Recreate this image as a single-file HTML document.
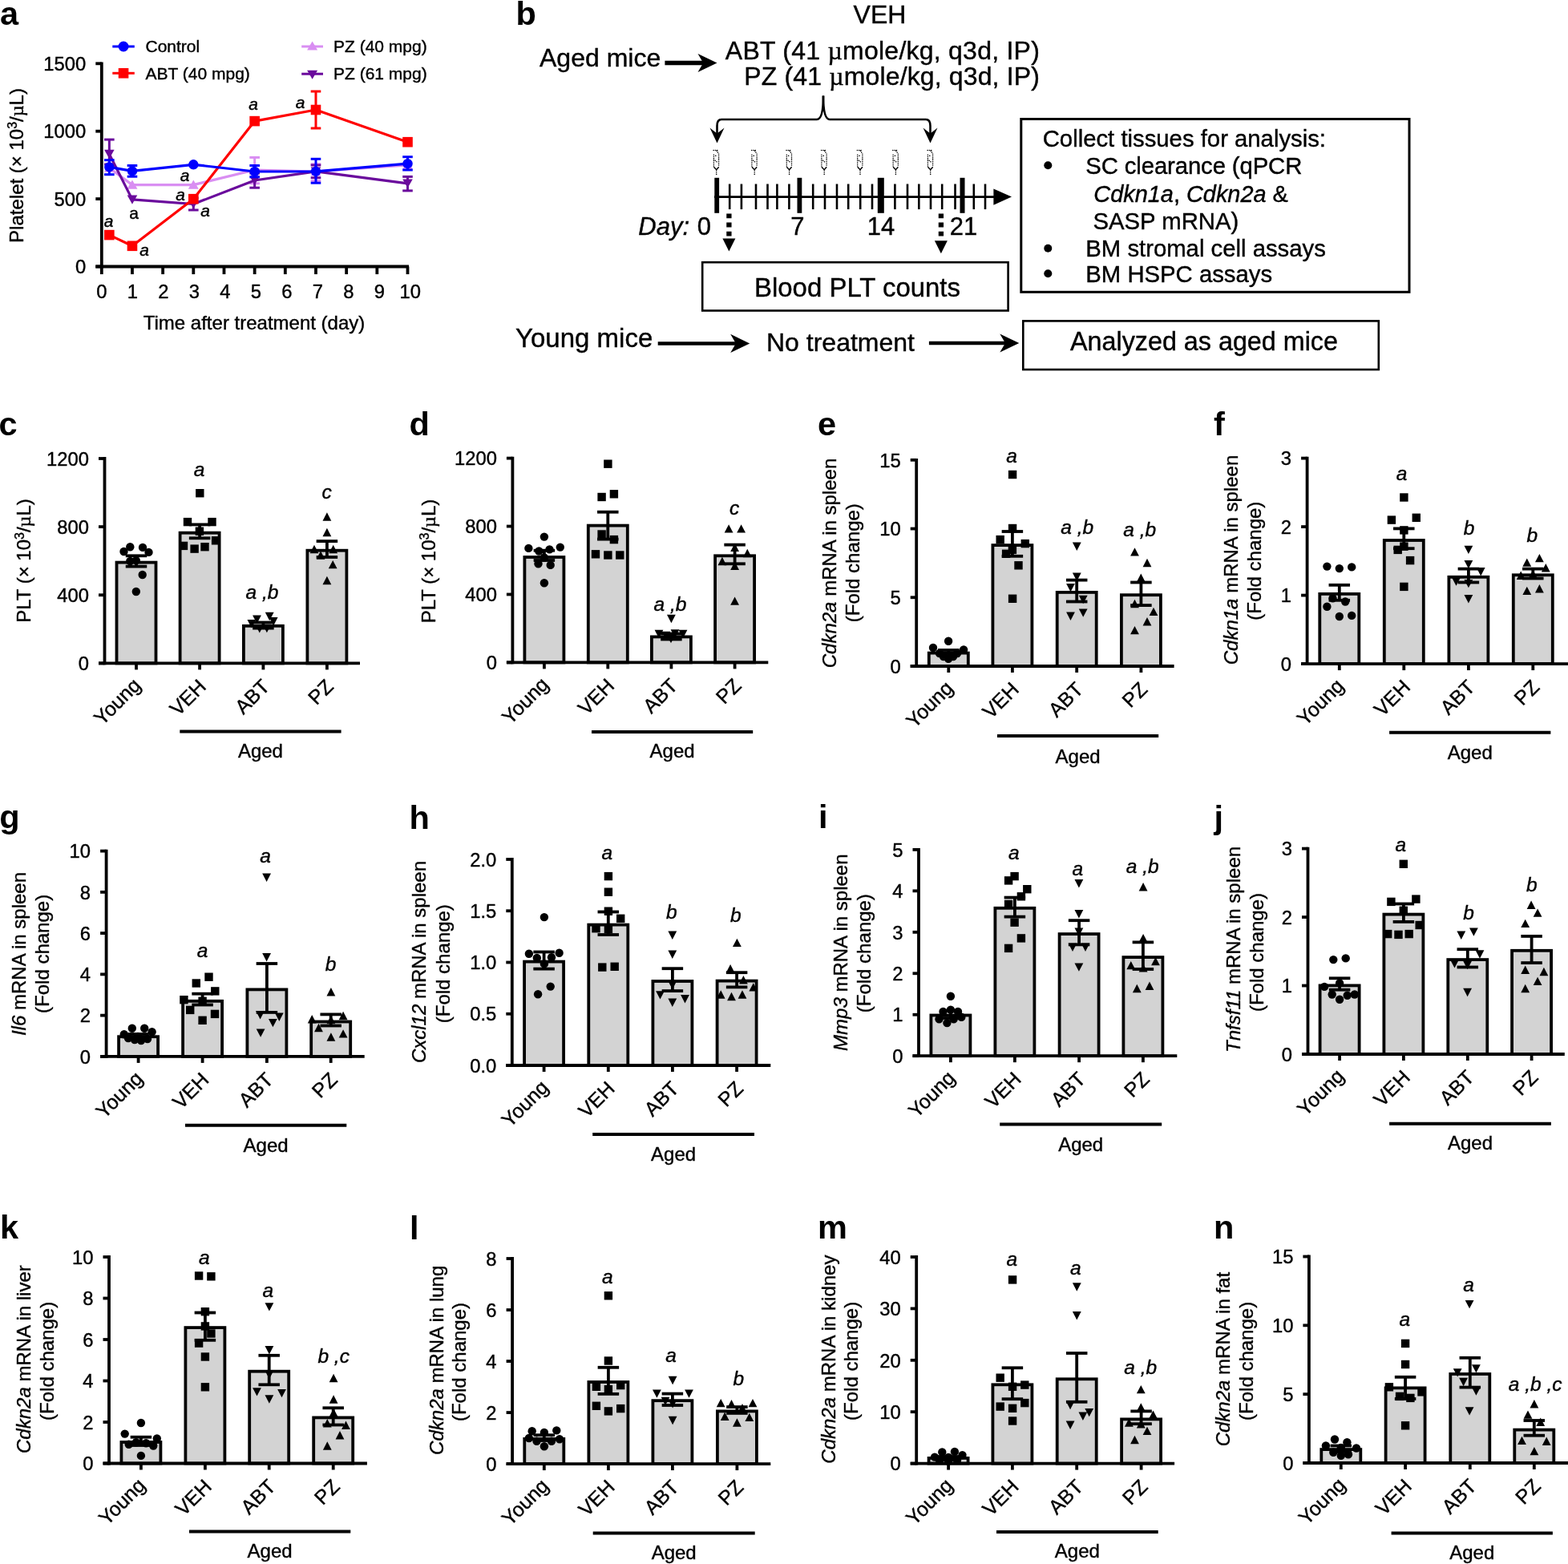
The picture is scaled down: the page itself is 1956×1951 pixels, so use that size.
<!DOCTYPE html>
<html><head><meta charset="utf-8"><title>Figure</title>
<style>
html,body{margin:0;padding:0;background:#fff;}
svg{display:block;}
text{font-family:'Liberation Sans', Arial, Helvetica, sans-serif;fill:#000;stroke:#000;stroke-width:0.4px;}
text[font-weight=bold]{stroke:none;}
</style></head>
<body>
<svg xmlns="http://www.w3.org/2000/svg" width="1956" height="1951" viewBox="0 0 1956 1951">
<rect width="1956" height="1951" fill="#fff"/>
<text x="0" y="31.2" font-size="41.5" text-anchor="start" font-weight="bold">a</text>
<line x1="126.8" y1="77.4" x2="126.8" y2="334.4" stroke="#000" stroke-width="3.8" stroke-linecap="butt"/>
<line x1="119.3" y1="332.5" x2="510" y2="332.5" stroke="#000" stroke-width="3.8" stroke-linecap="butt"/>
<line x1="119.3" y1="332.5" x2="126.8" y2="332.5" stroke="#000" stroke-width="3.8" stroke-linecap="butt"/>
<text x="107.3" y="341.2" font-size="23.8" text-anchor="end">0</text>
<line x1="119.3" y1="248.1" x2="126.8" y2="248.1" stroke="#000" stroke-width="3.8" stroke-linecap="butt"/>
<text x="107.3" y="256.8" font-size="23.8" text-anchor="end">500</text>
<line x1="119.3" y1="163.7" x2="126.8" y2="163.7" stroke="#000" stroke-width="3.8" stroke-linecap="butt"/>
<text x="107.3" y="172.4" font-size="23.8" text-anchor="end">1000</text>
<line x1="119.3" y1="79.3" x2="126.8" y2="79.3" stroke="#000" stroke-width="3.8" stroke-linecap="butt"/>
<text x="107.3" y="88" font-size="23.8" text-anchor="end">1500</text>
<line x1="126.8" y1="332.5" x2="126.8" y2="342.1" stroke="#000" stroke-width="3.8" stroke-linecap="butt"/>
<text x="126.8" y="371.8" font-size="23.8" text-anchor="middle">0</text>
<line x1="164.97" y1="332.5" x2="164.97" y2="342.1" stroke="#000" stroke-width="3.8" stroke-linecap="butt"/>
<text x="165.3" y="371.8" font-size="23.8" text-anchor="middle">1</text>
<line x1="203.14" y1="332.5" x2="203.14" y2="342.1" stroke="#000" stroke-width="3.8" stroke-linecap="butt"/>
<text x="203.8" y="371.8" font-size="23.8" text-anchor="middle">2</text>
<line x1="241.31" y1="332.5" x2="241.31" y2="342.1" stroke="#000" stroke-width="3.8" stroke-linecap="butt"/>
<text x="242.3" y="371.8" font-size="23.8" text-anchor="middle">3</text>
<line x1="279.48" y1="332.5" x2="279.48" y2="342.1" stroke="#000" stroke-width="3.8" stroke-linecap="butt"/>
<text x="280.8" y="371.8" font-size="23.8" text-anchor="middle">4</text>
<line x1="317.65" y1="332.5" x2="317.65" y2="342.1" stroke="#000" stroke-width="3.8" stroke-linecap="butt"/>
<text x="319.3" y="371.8" font-size="23.8" text-anchor="middle">5</text>
<line x1="355.82" y1="332.5" x2="355.82" y2="342.1" stroke="#000" stroke-width="3.8" stroke-linecap="butt"/>
<text x="357.8" y="371.8" font-size="23.8" text-anchor="middle">6</text>
<line x1="393.99" y1="332.5" x2="393.99" y2="342.1" stroke="#000" stroke-width="3.8" stroke-linecap="butt"/>
<text x="396.3" y="371.8" font-size="23.8" text-anchor="middle">7</text>
<line x1="432.16" y1="332.5" x2="432.16" y2="342.1" stroke="#000" stroke-width="3.8" stroke-linecap="butt"/>
<text x="434.8" y="371.8" font-size="23.8" text-anchor="middle">8</text>
<line x1="470.33" y1="332.5" x2="470.33" y2="342.1" stroke="#000" stroke-width="3.8" stroke-linecap="butt"/>
<text x="473.3" y="371.8" font-size="23.8" text-anchor="middle">9</text>
<line x1="508.5" y1="332.5" x2="508.5" y2="342.1" stroke="#000" stroke-width="3.8" stroke-linecap="butt"/>
<text x="511.8" y="371.8" font-size="23.8" text-anchor="middle">10</text>
<text x="317" y="411" font-size="24" text-anchor="middle">Time after treatment (day)</text>
<text x="28.8" y="206.5" font-size="24" text-anchor="middle" transform="rotate(-90 28.8 206.5)">Platelet (× 10<tspan dy="-8" font-size="16">3</tspan><tspan dy="8">/</tspan><tspan font-family="Liberation Serif, serif">µ</tspan>L)</text>
<line x1="317.65" y1="196.4" x2="317.65" y2="228.8" stroke="#d98ef2" stroke-width="3" stroke-linecap="butt"/>
<line x1="311.35" y1="196.4" x2="323.95" y2="196.4" stroke="#d98ef2" stroke-width="3" stroke-linecap="butt"/>
<line x1="311.35" y1="228.8" x2="323.95" y2="228.8" stroke="#d98ef2" stroke-width="3" stroke-linecap="butt"/>
<line x1="393.99" y1="204.8" x2="393.99" y2="225.6" stroke="#d98ef2" stroke-width="3" stroke-linecap="butt"/>
<line x1="387.69" y1="204.8" x2="400.29" y2="204.8" stroke="#d98ef2" stroke-width="3" stroke-linecap="butt"/>
<line x1="387.69" y1="225.6" x2="400.29" y2="225.6" stroke="#d98ef2" stroke-width="3" stroke-linecap="butt"/>
<polyline points="136.34,209.5 164.97,230.6 241.31,230.6 317.65,212 393.99,214 508.5,206" fill="none" stroke="#d98ef2" stroke-width="3.2" stroke-linejoin="round"/>
<path d="M136.34 203.5L142.84 214.7L129.84 214.7Z" fill="#d98ef2"/>
<path d="M164.97 224.6L171.47 235.8L158.47 235.8Z" fill="#d98ef2"/>
<path d="M241.31 224.6L247.81 235.8L234.81 235.8Z" fill="#d98ef2"/>
<path d="M317.65 206L324.15 217.2L311.15 217.2Z" fill="#d98ef2"/>
<path d="M393.99 208L400.49 219.2L387.49 219.2Z" fill="#d98ef2"/>
<path d="M508.5 200L515 211.2L502 211.2Z" fill="#d98ef2"/>
<line x1="136.34" y1="174.1" x2="136.34" y2="205" stroke="#6a0a9c" stroke-width="3" stroke-linecap="butt"/>
<line x1="130.04" y1="174.1" x2="142.64" y2="174.1" stroke="#6a0a9c" stroke-width="3" stroke-linecap="butt"/>
<line x1="130.04" y1="205" x2="142.64" y2="205" stroke="#6a0a9c" stroke-width="3" stroke-linecap="butt"/>
<line x1="241.31" y1="247" x2="241.31" y2="262" stroke="#6a0a9c" stroke-width="3" stroke-linecap="butt"/>
<line x1="235.01" y1="247" x2="247.61" y2="247" stroke="#6a0a9c" stroke-width="3" stroke-linecap="butt"/>
<line x1="235.01" y1="262" x2="247.61" y2="262" stroke="#6a0a9c" stroke-width="3" stroke-linecap="butt"/>
<line x1="317.65" y1="216" x2="317.65" y2="234.2" stroke="#6a0a9c" stroke-width="3" stroke-linecap="butt"/>
<line x1="311.35" y1="216" x2="323.95" y2="216" stroke="#6a0a9c" stroke-width="3" stroke-linecap="butt"/>
<line x1="311.35" y1="234.2" x2="323.95" y2="234.2" stroke="#6a0a9c" stroke-width="3" stroke-linecap="butt"/>
<line x1="393.99" y1="206" x2="393.99" y2="221.7" stroke="#6a0a9c" stroke-width="3" stroke-linecap="butt"/>
<line x1="387.69" y1="206" x2="400.29" y2="206" stroke="#6a0a9c" stroke-width="3" stroke-linecap="butt"/>
<line x1="387.69" y1="221.7" x2="400.29" y2="221.7" stroke="#6a0a9c" stroke-width="3" stroke-linecap="butt"/>
<line x1="508.5" y1="220.4" x2="508.5" y2="237.9" stroke="#6a0a9c" stroke-width="3" stroke-linecap="butt"/>
<line x1="502.2" y1="220.4" x2="514.8" y2="220.4" stroke="#6a0a9c" stroke-width="3" stroke-linecap="butt"/>
<line x1="502.2" y1="237.9" x2="514.8" y2="237.9" stroke="#6a0a9c" stroke-width="3" stroke-linecap="butt"/>
<polyline points="136.34,192.2 164.97,248.9 241.31,254.5 317.65,225 393.99,213.9 508.5,228.8" fill="none" stroke="#6a0a9c" stroke-width="3.2" stroke-linejoin="round"/>
<path d="M130.04 186.8L142.64 186.8L136.34 198Z" fill="#6a0a9c"/>
<path d="M158.67 243.5L171.27 243.5L164.97 254.7Z" fill="#6a0a9c"/>
<path d="M235.01 249.1L247.61 249.1L241.31 260.3Z" fill="#6a0a9c"/>
<path d="M311.35 219.6L323.95 219.6L317.65 230.8Z" fill="#6a0a9c"/>
<path d="M387.69 208.5L400.29 208.5L393.99 219.7Z" fill="#6a0a9c"/>
<path d="M502.2 223.4L514.8 223.4L508.5 234.6Z" fill="#6a0a9c"/>
<line x1="393.99" y1="114" x2="393.99" y2="160" stroke="#ff0000" stroke-width="3" stroke-linecap="butt"/>
<line x1="387.69" y1="114" x2="400.29" y2="114" stroke="#ff0000" stroke-width="3" stroke-linecap="butt"/>
<line x1="387.69" y1="160" x2="400.29" y2="160" stroke="#ff0000" stroke-width="3" stroke-linecap="butt"/>
<polyline points="136.34,293.1 164.97,306.8 241.31,248.2 317.65,151.1 393.99,137 508.5,177.2" fill="none" stroke="#ff0000" stroke-width="3.2" stroke-linejoin="round"/>
<rect x="130.04" y="286.8" width="12.6" height="12.6" fill="#ff0000"/>
<rect x="158.67" y="300.5" width="12.6" height="12.6" fill="#ff0000"/>
<rect x="235.01" y="241.9" width="12.6" height="12.6" fill="#ff0000"/>
<rect x="311.35" y="144.8" width="12.6" height="12.6" fill="#ff0000"/>
<rect x="387.69" y="130.7" width="12.6" height="12.6" fill="#ff0000"/>
<rect x="502.2" y="170.9" width="12.6" height="12.6" fill="#ff0000"/>
<line x1="136.34" y1="199.7" x2="136.34" y2="217.7" stroke="#0000ff" stroke-width="3" stroke-linecap="butt"/>
<line x1="130.04" y1="199.7" x2="142.64" y2="199.7" stroke="#0000ff" stroke-width="3" stroke-linecap="butt"/>
<line x1="130.04" y1="217.7" x2="142.64" y2="217.7" stroke="#0000ff" stroke-width="3" stroke-linecap="butt"/>
<line x1="164.97" y1="206.5" x2="164.97" y2="220.2" stroke="#0000ff" stroke-width="3" stroke-linecap="butt"/>
<line x1="158.67" y1="206.5" x2="171.27" y2="206.5" stroke="#0000ff" stroke-width="3" stroke-linecap="butt"/>
<line x1="158.67" y1="220.2" x2="171.27" y2="220.2" stroke="#0000ff" stroke-width="3" stroke-linecap="butt"/>
<line x1="317.65" y1="206.5" x2="317.65" y2="220.8" stroke="#0000ff" stroke-width="3" stroke-linecap="butt"/>
<line x1="311.35" y1="206.5" x2="323.95" y2="206.5" stroke="#0000ff" stroke-width="3" stroke-linecap="butt"/>
<line x1="311.35" y1="220.8" x2="323.95" y2="220.8" stroke="#0000ff" stroke-width="3" stroke-linecap="butt"/>
<line x1="393.99" y1="198.3" x2="393.99" y2="228.2" stroke="#0000ff" stroke-width="3" stroke-linecap="butt"/>
<line x1="387.69" y1="198.3" x2="400.29" y2="198.3" stroke="#0000ff" stroke-width="3" stroke-linecap="butt"/>
<line x1="387.69" y1="228.2" x2="400.29" y2="228.2" stroke="#0000ff" stroke-width="3" stroke-linecap="butt"/>
<line x1="508.5" y1="195.7" x2="508.5" y2="212" stroke="#0000ff" stroke-width="3" stroke-linecap="butt"/>
<line x1="502.2" y1="195.7" x2="514.8" y2="195.7" stroke="#0000ff" stroke-width="3" stroke-linecap="butt"/>
<line x1="502.2" y1="212" x2="514.8" y2="212" stroke="#0000ff" stroke-width="3" stroke-linecap="butt"/>
<polyline points="136.34,208.4 164.97,213.4 241.31,205.3 317.65,214 393.99,213.9 508.5,204.2" fill="none" stroke="#0000ff" stroke-width="3.2" stroke-linejoin="round"/>
<circle cx="136.34" cy="208.4" r="6.2" fill="#0000ff"/>
<circle cx="164.97" cy="213.4" r="6.2" fill="#0000ff"/>
<circle cx="241.31" cy="205.3" r="6.2" fill="#0000ff"/>
<circle cx="317.65" cy="214" r="6.2" fill="#0000ff"/>
<circle cx="393.99" cy="213.9" r="6.2" fill="#0000ff"/>
<circle cx="508.5" cy="204.2" r="6.2" fill="#0000ff"/>
<text x="135.5" y="283.1" font-size="21" font-style="italic" text-anchor="middle">a</text>
<text x="180" y="318.6" font-size="21" font-style="italic" text-anchor="middle">a</text>
<text x="230.5" y="226.4" font-size="21" font-style="italic" text-anchor="middle">a</text>
<text x="225" y="249.5" font-size="21" font-style="italic" text-anchor="middle">a</text>
<text x="256" y="270" font-size="21" font-style="italic" text-anchor="middle">a</text>
<text x="316.2" y="137.4" font-size="21" font-style="italic" text-anchor="middle">a</text>
<text x="374.6" y="135" font-size="21" font-style="italic" text-anchor="middle">a</text>
<text x="167" y="273.2" font-size="21" text-anchor="middle">a</text>
<line x1="140.3" y1="58" x2="167.8" y2="58" stroke="#0000ff" stroke-width="3" stroke-linecap="butt"/>
<circle cx="154.05" cy="58" r="6.5" fill="#0000ff"/>
<text x="181.5" y="65" font-size="21" text-anchor="start">Control</text>
<line x1="140.3" y1="91.3" x2="167.8" y2="91.3" stroke="#ff0000" stroke-width="3" stroke-linecap="butt"/>
<rect x="147.75" y="85" width="12.6" height="12.6" fill="#ff0000"/>
<text x="181.5" y="98.5" font-size="21" text-anchor="start">ABT (40 mpg)</text>
<line x1="376.2" y1="58" x2="403" y2="58" stroke="#d98ef2" stroke-width="3" stroke-linecap="butt"/>
<path d="M389.6 51.5L396.1 62.5L383.1 62.5Z" fill="#d98ef2"/>
<text x="416" y="65.2" font-size="21" text-anchor="start">PZ (40 mpg)</text>
<line x1="376.2" y1="92.2" x2="403" y2="92.2" stroke="#6a0a9c" stroke-width="3" stroke-linecap="butt"/>
<path d="M383.1 87.7L396.1 87.7L389.6 98.7Z" fill="#6a0a9c"/>
<text x="416" y="99.1" font-size="21" text-anchor="start">PZ (61 mpg)</text>
<text x="643.5" y="31.3" font-size="41.5" text-anchor="start" font-weight="bold">b</text>
<text x="1097.5" y="28.6" font-size="32" text-anchor="middle">VEH</text>
<text x="673" y="82.5" font-size="32" text-anchor="start">Aged mice</text>
<line x1="829.4" y1="78.5" x2="882" y2="78.5" stroke="#000" stroke-width="5.5" stroke-linecap="butt"/>
<path d="M894.5 78.5L870.5 67L877.22 78.5L870.5 90Z" fill="#000"/>
<text x="1296.8" y="73.9" font-size="32" text-anchor="end" textLength="392" lengthAdjust="spacing">ABT (41 <tspan font-family="Liberation Serif, serif">µ</tspan>mole/kg, q3d, IP)</text>
<text x="1296.8" y="105.8" font-size="32" text-anchor="end" textLength="368.5" lengthAdjust="spacing">PZ (41 <tspan font-family="Liberation Serif, serif">µ</tspan>mole/kg, q3d, IP)</text>
<path d="M1027 119.5 Q1027 149 1019 149 H900 Q894.5 149 894.5 157 V170" fill="none" stroke="#000" stroke-width="2.6"/>
<path d="M1027 119.5 Q1027 149 1035 149 H1155 Q1160.5 149 1160.5 157 V170" fill="none" stroke="#000" stroke-width="2.6"/>
<path d="M894.5 178.6 L885.5 159.5 L894.5 166.5 L903.5 159.5 Z" fill="#000"/>
<path d="M1160.5 178.6 L1151.5 159.5 L1160.5 166.5 L1169.5 159.5 Z" fill="#000"/>
<g fill="none" stroke="#000" stroke-width="1.5" stroke-linecap="round" stroke-dasharray="0.1 2.2"><path d="M890.1 187.5H896.1"/><path d="M894.1 188.2L896.5 191.7"/><path d="M890.4 193.2V207.2 M896.6 192.2V207.2"/><path d="M892.7 194.2L894.2 195.2 M892.2 200.2L894.5 202.2"/><path d="M893.7 212.7V219.2"/></g><path d="M890.4 208.2L893.7 211.7L896.7 208.2" fill="none" stroke="#000" stroke-width="1.4"/>
<g fill="none" stroke="#000" stroke-width="1.5" stroke-linecap="round" stroke-dasharray="0.1 2.2"><path d="M937.6 187.5H943.6"/><path d="M941.6 188.2L944 191.7"/><path d="M937.9 193.2V207.2 M944.1 192.2V207.2"/><path d="M940.2 194.2L941.7 195.2 M939.7 200.2L942 202.2"/><path d="M941.2 212.7V219.2"/></g><path d="M937.9 208.2L941.2 211.7L944.2 208.2" fill="none" stroke="#000" stroke-width="1.4"/>
<g fill="none" stroke="#000" stroke-width="1.5" stroke-linecap="round" stroke-dasharray="0.1 2.2"><path d="M981 187.5H987"/><path d="M985 188.2L987.4 191.7"/><path d="M981.3 193.2V207.2 M987.5 192.2V207.2"/><path d="M983.6 194.2L985.1 195.2 M983.1 200.2L985.4 202.2"/><path d="M984.6 212.7V219.2"/></g><path d="M981.3 208.2L984.6 211.7L987.6 208.2" fill="none" stroke="#000" stroke-width="1.4"/>
<g fill="none" stroke="#000" stroke-width="1.5" stroke-linecap="round" stroke-dasharray="0.1 2.2"><path d="M1024.6 187.5H1030.6"/><path d="M1028.6 188.2L1031 191.7"/><path d="M1024.9 193.2V207.2 M1031.1 192.2V207.2"/><path d="M1027.2 194.2L1028.7 195.2 M1026.7 200.2L1029 202.2"/><path d="M1028.2 212.7V219.2"/></g><path d="M1024.9 208.2L1028.2 211.7L1031.2 208.2" fill="none" stroke="#000" stroke-width="1.4"/>
<g fill="none" stroke="#000" stroke-width="1.5" stroke-linecap="round" stroke-dasharray="0.1 2.2"><path d="M1069.4 187.5H1075.4"/><path d="M1073.4 188.2L1075.8 191.7"/><path d="M1069.7 193.2V207.2 M1075.9 192.2V207.2"/><path d="M1072 194.2L1073.5 195.2 M1071.5 200.2L1073.8 202.2"/><path d="M1073 212.7V219.2"/></g><path d="M1069.7 208.2L1073 211.7L1076 208.2" fill="none" stroke="#000" stroke-width="1.4"/>
<g fill="none" stroke="#000" stroke-width="1.5" stroke-linecap="round" stroke-dasharray="0.1 2.2"><path d="M1113.8 187.5H1119.8"/><path d="M1117.8 188.2L1120.2 191.7"/><path d="M1114.1 193.2V207.2 M1120.3 192.2V207.2"/><path d="M1116.4 194.2L1117.9 195.2 M1115.9 200.2L1118.2 202.2"/><path d="M1117.4 212.7V219.2"/></g><path d="M1114.1 208.2L1117.4 211.7L1120.4 208.2" fill="none" stroke="#000" stroke-width="1.4"/>
<g fill="none" stroke="#000" stroke-width="1.5" stroke-linecap="round" stroke-dasharray="0.1 2.2"><path d="M1157.1 187.5H1163.1"/><path d="M1161.1 188.2L1163.5 191.7"/><path d="M1157.4 193.2V207.2 M1163.6 192.2V207.2"/><path d="M1159.7 194.2L1161.2 195.2 M1159.2 200.2L1161.5 202.2"/><path d="M1160.7 212.7V219.2"/></g><path d="M1157.4 208.2L1160.7 211.7L1163.7 208.2" fill="none" stroke="#000" stroke-width="1.4"/>
<line x1="891" y1="245.6" x2="1242" y2="245.6" stroke="#000" stroke-width="2.8" stroke-linecap="butt"/>
<path d="M1262 245.6 L1239.4 235.5 L1239.4 255.7 Z" fill="#000"/>
<rect x="891.3" y="221.8" width="5.8" height="44" fill="#000"/>
<rect x="994.5" y="221.8" width="5.8" height="44" fill="#000"/>
<rect x="1094.8" y="221.8" width="8" height="44" fill="#000"/>
<rect x="1197.5" y="221.8" width="6" height="44" fill="#000"/>
<line x1="910.2" y1="229.5" x2="910.2" y2="261.1" stroke="#000" stroke-width="2.6" stroke-linecap="butt"/>
<line x1="924.9" y1="229.5" x2="924.9" y2="261.1" stroke="#000" stroke-width="2.6" stroke-linecap="butt"/>
<line x1="943" y1="229.5" x2="943" y2="261.1" stroke="#000" stroke-width="2.6" stroke-linecap="butt"/>
<line x1="957.5" y1="229.5" x2="957.5" y2="261.1" stroke="#000" stroke-width="2.6" stroke-linecap="butt"/>
<line x1="969.4" y1="229.5" x2="969.4" y2="261.1" stroke="#000" stroke-width="2.6" stroke-linecap="butt"/>
<line x1="984.4" y1="229.5" x2="984.4" y2="261.1" stroke="#000" stroke-width="2.6" stroke-linecap="butt"/>
<line x1="1014.2" y1="229.5" x2="1014.2" y2="261.1" stroke="#000" stroke-width="2.6" stroke-linecap="butt"/>
<line x1="1029" y1="229.5" x2="1029" y2="261.1" stroke="#000" stroke-width="2.6" stroke-linecap="butt"/>
<line x1="1044" y1="229.5" x2="1044" y2="261.1" stroke="#000" stroke-width="2.6" stroke-linecap="butt"/>
<line x1="1058.2" y1="229.5" x2="1058.2" y2="261.1" stroke="#000" stroke-width="2.6" stroke-linecap="butt"/>
<line x1="1073.2" y1="229.5" x2="1073.2" y2="261.1" stroke="#000" stroke-width="2.6" stroke-linecap="butt"/>
<line x1="1088" y1="229.5" x2="1088" y2="261.1" stroke="#000" stroke-width="2.6" stroke-linecap="butt"/>
<line x1="1116.4" y1="229.5" x2="1116.4" y2="261.1" stroke="#000" stroke-width="2.6" stroke-linecap="butt"/>
<line x1="1132" y1="229.5" x2="1132" y2="261.1" stroke="#000" stroke-width="2.6" stroke-linecap="butt"/>
<line x1="1146.3" y1="229.5" x2="1146.3" y2="261.1" stroke="#000" stroke-width="2.6" stroke-linecap="butt"/>
<line x1="1161" y1="229.5" x2="1161" y2="261.1" stroke="#000" stroke-width="2.6" stroke-linecap="butt"/>
<line x1="1175.2" y1="229.5" x2="1175.2" y2="261.1" stroke="#000" stroke-width="2.6" stroke-linecap="butt"/>
<line x1="1191.5" y1="229.5" x2="1191.5" y2="261.1" stroke="#000" stroke-width="2.6" stroke-linecap="butt"/>
<line x1="1214.8" y1="229.5" x2="1214.8" y2="261.1" stroke="#000" stroke-width="2.6" stroke-linecap="butt"/>
<line x1="1229" y1="229.5" x2="1229" y2="261.1" stroke="#000" stroke-width="2.6" stroke-linecap="butt"/>
<text x="860" y="293" font-size="31" text-anchor="end" font-style="italic">Day:</text>
<text x="878.3" y="293" font-size="31" text-anchor="middle">0</text>
<text x="994.8" y="293" font-size="31" text-anchor="middle">7</text>
<text x="1099" y="293" font-size="31" text-anchor="middle">14</text>
<text x="1201.9" y="293" font-size="31" text-anchor="middle">21</text>
<line x1="909.4" y1="266.4" x2="909.4" y2="297.1" stroke="#000" stroke-width="6.3" stroke-dasharray="5.8 5.4"/>
<path d="M901.4 297.6 L917.4 297.6 L909.4 313.6 Z" fill="#000"/>
<line x1="1173.9" y1="266.4" x2="1173.9" y2="299.7" stroke="#000" stroke-width="6.3" stroke-dasharray="5.8 5.4"/>
<path d="M1165.9 300.2 L1181.9 300.2 L1173.9 316.2 Z" fill="#000"/>
<rect x="876.2" y="327.2" width="381.4" height="60.3" fill="none" stroke="#000" stroke-width="2.6"/>
<text x="1069.5" y="369.8" font-size="32.95" text-anchor="middle">Blood PLT counts</text>
<rect x="1273.8" y="148.5" width="484.2" height="215.8" fill="none" stroke="#000" stroke-width="3"/>
<text x="1300.7" y="182.7" font-size="29.3" text-anchor="start">Collect tissues for analysis:</text>
<circle cx="1307.3" cy="206.3" r="5" fill="#000"/>
<circle cx="1307.3" cy="309.7" r="5" fill="#000"/>
<circle cx="1307.3" cy="341.2" r="5" fill="#000"/>
<text x="1354.3" y="217.2" font-size="29.3" text-anchor="start" textLength="270" lengthAdjust="spacing">SC clearance (qPCR</text>
<text x="1364.3" y="251.5" font-size="28.9"><tspan font-style="italic">Cdkn1a</tspan>, <tspan font-style="italic">Cdkn2a</tspan> &amp;</text>
<text x="1363.5" y="286.4" font-size="29.3" text-anchor="start">SASP mRNA)</text>
<text x="1354.3" y="320.1" font-size="29.3" text-anchor="start">BM stromal cell assays</text>
<text x="1354.3" y="352.2" font-size="29.3" text-anchor="start">BM HSPC assays</text>
<text x="643" y="432.7" font-size="33" text-anchor="start">Young mice</text>
<line x1="820.7" y1="428.4" x2="920" y2="428.4" stroke="#000" stroke-width="4.5" stroke-linecap="butt"/>
<path d="M935.2 428.4L911.2 416.7L917.92 428.4L911.2 440.1Z" fill="#000"/>
<text x="956" y="438.4" font-size="32" text-anchor="start">No treatment</text>
<line x1="1158.9" y1="428" x2="1258" y2="428" stroke="#000" stroke-width="4.5" stroke-linecap="butt"/>
<path d="M1271.3 428L1247.3 416.5L1254.02 428L1247.3 439.5Z" fill="#000"/>
<rect x="1276.3" y="400.4" width="443.5" height="60.6" fill="none" stroke="#000" stroke-width="2.6"/>
<text x="1502" y="437.4" font-size="32.3" text-anchor="middle">Analyzed as aged mice</text>
<line x1="130.5" y1="570.1" x2="130.5" y2="829.3" stroke="#000" stroke-width="3.8" stroke-linecap="butt"/>
<line x1="123" y1="827.4" x2="130.5" y2="827.4" stroke="#000" stroke-width="3.8" stroke-linecap="butt"/>
<text x="111" y="836.1" font-size="23.8" text-anchor="end">0</text>
<line x1="123" y1="742.27" x2="130.5" y2="742.27" stroke="#000" stroke-width="3.8" stroke-linecap="butt"/>
<text x="111" y="750.97" font-size="23.8" text-anchor="end">400</text>
<line x1="123" y1="657.13" x2="130.5" y2="657.13" stroke="#000" stroke-width="3.8" stroke-linecap="butt"/>
<text x="111" y="665.83" font-size="23.8" text-anchor="end">800</text>
<line x1="123" y1="572" x2="130.5" y2="572" stroke="#000" stroke-width="3.8" stroke-linecap="butt"/>
<text x="111" y="580.7" font-size="23.8" text-anchor="end">1200</text>
<rect x="145.5" y="701.6" width="49" height="125.8" fill="#d3d3d3" stroke="#000" stroke-width="3.8"/>
<rect x="224.6" y="664.7" width="49" height="162.7" fill="#d3d3d3" stroke="#000" stroke-width="3.8"/>
<rect x="303.9" y="780.8" width="49" height="46.6" fill="#d3d3d3" stroke="#000" stroke-width="3.8"/>
<rect x="383.4" y="686.7" width="49" height="140.7" fill="#d3d3d3" stroke="#000" stroke-width="3.8"/>
<line x1="170" y1="693.3" x2="170" y2="706.6" stroke="#000" stroke-width="3.8" stroke-linecap="butt"/>
<line x1="156.75" y1="693.3" x2="183.25" y2="693.3" stroke="#000" stroke-width="3.8" stroke-linecap="butt"/>
<line x1="156.75" y1="706.6" x2="183.25" y2="706.6" stroke="#000" stroke-width="3.8" stroke-linecap="butt"/>
<line x1="249.1" y1="654.4" x2="249.1" y2="671.3" stroke="#000" stroke-width="3.8" stroke-linecap="butt"/>
<line x1="235.85" y1="654.4" x2="262.35" y2="654.4" stroke="#000" stroke-width="3.8" stroke-linecap="butt"/>
<line x1="235.85" y1="671.3" x2="262.35" y2="671.3" stroke="#000" stroke-width="3.8" stroke-linecap="butt"/>
<line x1="328.4" y1="776.5" x2="328.4" y2="783.6" stroke="#000" stroke-width="3.8" stroke-linecap="butt"/>
<line x1="315.15" y1="776.5" x2="341.65" y2="776.5" stroke="#000" stroke-width="3.8" stroke-linecap="butt"/>
<line x1="315.15" y1="783.6" x2="341.65" y2="783.6" stroke="#000" stroke-width="3.8" stroke-linecap="butt"/>
<line x1="407.9" y1="675.1" x2="407.9" y2="695" stroke="#000" stroke-width="3.8" stroke-linecap="butt"/>
<line x1="394.65" y1="675.1" x2="421.15" y2="675.1" stroke="#000" stroke-width="3.8" stroke-linecap="butt"/>
<line x1="394.65" y1="695" x2="421.15" y2="695" stroke="#000" stroke-width="3.8" stroke-linecap="butt"/>
<circle cx="162.3" cy="682.2" r="5.2" fill="#000"/>
<circle cx="178" cy="682.9" r="5.2" fill="#000"/>
<circle cx="154.5" cy="688" r="5.2" fill="#000"/>
<circle cx="185.5" cy="688.9" r="5.2" fill="#000"/>
<circle cx="162.3" cy="700" r="5.2" fill="#000"/>
<circle cx="169.8" cy="699.1" r="5.2" fill="#000"/>
<circle cx="177.7" cy="717" r="5.2" fill="#000"/>
<circle cx="169.8" cy="738" r="5.2" fill="#000"/>
<rect x="244.1" y="610" width="10.4" height="10.4" fill="#000"/>
<rect x="228.8" y="645.9" width="10.4" height="10.4" fill="#000"/>
<rect x="259.3" y="645.9" width="10.4" height="10.4" fill="#000"/>
<rect x="243.7" y="657.5" width="10.4" height="10.4" fill="#000"/>
<rect x="263.9" y="669.1" width="10.4" height="10.4" fill="#000"/>
<rect x="223.8" y="675.7" width="10.4" height="10.4" fill="#000"/>
<rect x="250.3" y="677" width="10.4" height="10.4" fill="#000"/>
<rect x="237.4" y="679.4" width="10.4" height="10.4" fill="#000"/>
<path d="M315.1 767.6L325.9 767.6L320.5 778Z" fill="#000"/>
<path d="M330.8 763.8L341.6 763.8L336.2 774.2Z" fill="#000"/>
<path d="M308.5 773.1L319.3 773.1L313.9 783.5Z" fill="#000"/>
<path d="M335.8 770.1L346.6 770.1L341.2 780.5Z" fill="#000"/>
<path d="M318.4 779.2L329.2 779.2L323.8 789.6Z" fill="#000"/>
<path d="M327.5 778.8L338.3 778.8L332.9 789.2Z" fill="#000"/>
<path d="M407.9 639.3L413.3 649.7L402.5 649.7Z" fill="#000"/>
<path d="M407.9 658.8L413.3 669.2L402.5 669.2Z" fill="#000"/>
<path d="M392 679.8L397.4 690.2L386.6 690.2Z" fill="#000"/>
<path d="M415.7 679.8L421.1 690.2L410.3 690.2Z" fill="#000"/>
<path d="M400 687.3L405.4 697.7L394.6 697.7Z" fill="#000"/>
<path d="M415.2 698.9L420.6 709.3L409.8 709.3Z" fill="#000"/>
<path d="M407.9 718.8L413.3 729.2L402.5 729.2Z" fill="#000"/>
<line x1="123" y1="827.4" x2="449" y2="827.4" stroke="#000" stroke-width="3.8" stroke-linecap="butt"/>
<line x1="170" y1="827.4" x2="170" y2="835.4" stroke="#000" stroke-width="3.8" stroke-linecap="butt"/>
<text x="177" y="856.4" font-size="25" text-anchor="end" transform="rotate(-45 177 856.4)">Young</text>
<line x1="249.1" y1="827.4" x2="249.1" y2="835.4" stroke="#000" stroke-width="3.8" stroke-linecap="butt"/>
<text x="258.6" y="857.9" font-size="25" text-anchor="end" transform="rotate(-45 258.6 857.9)">VEH</text>
<line x1="328.4" y1="827.4" x2="328.4" y2="835.4" stroke="#000" stroke-width="3.8" stroke-linecap="butt"/>
<text x="337.9" y="857.9" font-size="25" text-anchor="end" transform="rotate(-45 337.9 857.9)">ABT</text>
<line x1="407.9" y1="827.4" x2="407.9" y2="835.4" stroke="#000" stroke-width="3.8" stroke-linecap="butt"/>
<text x="417.4" y="857.9" font-size="25" text-anchor="end" transform="rotate(-45 417.4 857.9)">PZ</text>
<line x1="224.3" y1="912.4" x2="425.6" y2="912.4" stroke="#000" stroke-width="4" stroke-linecap="butt"/>
<text x="324.95" y="945.2" font-size="24" text-anchor="middle">Aged</text>
<text x="248.5" y="594.3" font-size="24.5" font-style="italic" text-anchor="middle">a</text>
<text x="407.5" y="621.6" font-size="24.5" font-style="italic" text-anchor="middle">c</text>
<text x="327" y="746.7" font-size="24.5" font-style="italic" text-anchor="middle">a ,b</text>
<text x="38" y="699.5" font-size="24" text-anchor="middle" transform="rotate(-90 38 699.5)">PLT (× 10<tspan dy="-8" font-size="16">3</tspan><tspan dy="8">/</tspan><tspan font-family="Liberation Serif, serif">µ</tspan>L)</text>
<text x="-1.5" y="542.5" font-size="41.5" text-anchor="start" font-weight="bold">c</text>
<line x1="639.4" y1="569.7" x2="639.4" y2="828.3" stroke="#000" stroke-width="3.8" stroke-linecap="butt"/>
<line x1="631.9" y1="826.4" x2="639.4" y2="826.4" stroke="#000" stroke-width="3.8" stroke-linecap="butt"/>
<text x="619.9" y="835.1" font-size="23.8" text-anchor="end">0</text>
<line x1="631.9" y1="741.47" x2="639.4" y2="741.47" stroke="#000" stroke-width="3.8" stroke-linecap="butt"/>
<text x="619.9" y="750.17" font-size="23.8" text-anchor="end">400</text>
<line x1="631.9" y1="656.53" x2="639.4" y2="656.53" stroke="#000" stroke-width="3.8" stroke-linecap="butt"/>
<text x="619.9" y="665.23" font-size="23.8" text-anchor="end">800</text>
<line x1="631.9" y1="571.6" x2="639.4" y2="571.6" stroke="#000" stroke-width="3.8" stroke-linecap="butt"/>
<text x="619.9" y="580.3" font-size="23.8" text-anchor="end">1200</text>
<rect x="654.4" y="695" width="49" height="131.4" fill="#d3d3d3" stroke="#000" stroke-width="3.8"/>
<rect x="733.8" y="655.6" width="49" height="170.8" fill="#d3d3d3" stroke="#000" stroke-width="3.8"/>
<rect x="812.9" y="794.4" width="49" height="32" fill="#d3d3d3" stroke="#000" stroke-width="3.8"/>
<rect x="892.1" y="693.3" width="49" height="133.1" fill="#d3d3d3" stroke="#000" stroke-width="3.8"/>
<line x1="678.9" y1="686.7" x2="678.9" y2="699" stroke="#000" stroke-width="3.8" stroke-linecap="butt"/>
<line x1="665.65" y1="686.7" x2="692.15" y2="686.7" stroke="#000" stroke-width="3.8" stroke-linecap="butt"/>
<line x1="665.65" y1="699" x2="692.15" y2="699" stroke="#000" stroke-width="3.8" stroke-linecap="butt"/>
<line x1="758.3" y1="638.7" x2="758.3" y2="672.6" stroke="#000" stroke-width="3.8" stroke-linecap="butt"/>
<line x1="745.05" y1="638.7" x2="771.55" y2="638.7" stroke="#000" stroke-width="3.8" stroke-linecap="butt"/>
<line x1="745.05" y1="672.6" x2="771.55" y2="672.6" stroke="#000" stroke-width="3.8" stroke-linecap="butt"/>
<line x1="837.4" y1="790.5" x2="837.4" y2="797.5" stroke="#000" stroke-width="3.8" stroke-linecap="butt"/>
<line x1="824.15" y1="790.5" x2="850.65" y2="790.5" stroke="#000" stroke-width="3.8" stroke-linecap="butt"/>
<line x1="824.15" y1="797.5" x2="850.65" y2="797.5" stroke="#000" stroke-width="3.8" stroke-linecap="butt"/>
<line x1="916.6" y1="679.6" x2="916.6" y2="703.3" stroke="#000" stroke-width="3.8" stroke-linecap="butt"/>
<line x1="903.35" y1="679.6" x2="929.85" y2="679.6" stroke="#000" stroke-width="3.8" stroke-linecap="butt"/>
<line x1="903.35" y1="703.3" x2="929.85" y2="703.3" stroke="#000" stroke-width="3.8" stroke-linecap="butt"/>
<circle cx="678.9" cy="669.6" r="5.2" fill="#000"/>
<circle cx="659.4" cy="683.9" r="5.2" fill="#000"/>
<circle cx="698.8" cy="682.6" r="5.2" fill="#000"/>
<circle cx="672.3" cy="687.5" r="5.2" fill="#000"/>
<circle cx="685.5" cy="685.4" r="5.2" fill="#000"/>
<circle cx="671.5" cy="703.3" r="5.2" fill="#000"/>
<circle cx="686.7" cy="704.9" r="5.2" fill="#000"/>
<circle cx="678.9" cy="727.3" r="5.2" fill="#000"/>
<circle cx="678.9" cy="695.5" r="5.2" fill="#000"/>
<rect x="753.2" y="573.5" width="10.4" height="10.4" fill="#000"/>
<rect x="745.4" y="614.8" width="10.4" height="10.4" fill="#000"/>
<rect x="760.7" y="611.1" width="10.4" height="10.4" fill="#000"/>
<rect x="745.4" y="661.3" width="10.4" height="10.4" fill="#000"/>
<rect x="760.7" y="667.9" width="10.4" height="10.4" fill="#000"/>
<rect x="737.8" y="686.1" width="10.4" height="10.4" fill="#000"/>
<rect x="753.2" y="687.3" width="10.4" height="10.4" fill="#000"/>
<rect x="768.1" y="687.3" width="10.4" height="10.4" fill="#000"/>
<path d="M832 766.8L842.8 766.8L837.4 777.2Z" fill="#000"/>
<path d="M816.6 785.8L827.4 785.8L822 796.2Z" fill="#000"/>
<path d="M825.6 787.8L836.4 787.8L831 798.2Z" fill="#000"/>
<path d="M836.6 785.3L847.4 785.3L842 795.7Z" fill="#000"/>
<path d="M846.6 785.8L857.4 785.8L852 796.2Z" fill="#000"/>
<path d="M831.6 791.8L842.4 791.8L837 802.2Z" fill="#000"/>
<path d="M909.1 654.2L914.5 664.6L903.7 664.6Z" fill="#000"/>
<path d="M924.6 654.2L930 664.6L919.2 664.6Z" fill="#000"/>
<path d="M916.6 677.7L922 688.1L911.2 688.1Z" fill="#000"/>
<path d="M932.3 684.8L937.7 695.2L926.9 695.2Z" fill="#000"/>
<path d="M900.9 694.8L906.3 705.2L895.5 705.2Z" fill="#000"/>
<path d="M916.6 700.6L922 711L911.2 711Z" fill="#000"/>
<path d="M916.6 744.4L922 754.8L911.2 754.8Z" fill="#000"/>
<line x1="631.9" y1="826.4" x2="958.3" y2="826.4" stroke="#000" stroke-width="3.8" stroke-linecap="butt"/>
<line x1="678.9" y1="826.4" x2="678.9" y2="834.4" stroke="#000" stroke-width="3.8" stroke-linecap="butt"/>
<text x="685.9" y="855.4" font-size="25" text-anchor="end" transform="rotate(-45 685.9 855.4)">Young</text>
<line x1="758.3" y1="826.4" x2="758.3" y2="834.4" stroke="#000" stroke-width="3.8" stroke-linecap="butt"/>
<text x="767.8" y="856.9" font-size="25" text-anchor="end" transform="rotate(-45 767.8 856.9)">VEH</text>
<line x1="837.4" y1="826.4" x2="837.4" y2="834.4" stroke="#000" stroke-width="3.8" stroke-linecap="butt"/>
<text x="846.9" y="856.9" font-size="25" text-anchor="end" transform="rotate(-45 846.9 856.9)">ABT</text>
<line x1="916.6" y1="826.4" x2="916.6" y2="834.4" stroke="#000" stroke-width="3.8" stroke-linecap="butt"/>
<text x="926.1" y="856.9" font-size="25" text-anchor="end" transform="rotate(-45 926.1 856.9)">PZ</text>
<line x1="738" y1="913" x2="939.2" y2="913" stroke="#000" stroke-width="4" stroke-linecap="butt"/>
<text x="838.6" y="945.2" font-size="24" text-anchor="middle">Aged</text>
<text x="836" y="762" font-size="24.5" font-style="italic" text-anchor="middle">a ,b</text>
<text x="916" y="642" font-size="24.5" font-style="italic" text-anchor="middle">c</text>
<text x="543.2" y="700" font-size="24" text-anchor="middle" transform="rotate(-90 543.2 700)">PLT (× 10<tspan dy="-8" font-size="16">3</tspan><tspan dy="8">/</tspan><tspan font-family="Liberation Serif, serif">µ</tspan>L)</text>
<text x="510.5" y="542.8" font-size="41.5" text-anchor="start" font-weight="bold">d</text>
<line x1="1143.2" y1="571.9" x2="1143.2" y2="832.9" stroke="#000" stroke-width="3.8" stroke-linecap="butt"/>
<line x1="1135.7" y1="831" x2="1143.2" y2="831" stroke="#000" stroke-width="3.8" stroke-linecap="butt"/>
<text x="1123.7" y="839.7" font-size="23.8" text-anchor="end">0</text>
<line x1="1135.7" y1="745.27" x2="1143.2" y2="745.27" stroke="#000" stroke-width="3.8" stroke-linecap="butt"/>
<text x="1123.7" y="753.97" font-size="23.8" text-anchor="end">5</text>
<line x1="1135.7" y1="659.53" x2="1143.2" y2="659.53" stroke="#000" stroke-width="3.8" stroke-linecap="butt"/>
<text x="1123.7" y="668.23" font-size="23.8" text-anchor="end">10</text>
<line x1="1135.7" y1="573.8" x2="1143.2" y2="573.8" stroke="#000" stroke-width="3.8" stroke-linecap="butt"/>
<text x="1123.7" y="582.5" font-size="23.8" text-anchor="end">15</text>
<rect x="1158.8" y="814.6" width="49" height="16.4" fill="#d3d3d3" stroke="#000" stroke-width="3.8"/>
<rect x="1238.4" y="680.1" width="49" height="150.9" fill="#d3d3d3" stroke="#000" stroke-width="3.8"/>
<rect x="1318.7" y="738.9" width="49" height="92.1" fill="#d3d3d3" stroke="#000" stroke-width="3.8"/>
<rect x="1398.9" y="742.2" width="49" height="88.8" fill="#d3d3d3" stroke="#000" stroke-width="3.8"/>
<line x1="1183.3" y1="811" x2="1183.3" y2="818" stroke="#000" stroke-width="3.8" stroke-linecap="butt"/>
<line x1="1170.05" y1="811" x2="1196.55" y2="811" stroke="#000" stroke-width="3.8" stroke-linecap="butt"/>
<line x1="1170.05" y1="818" x2="1196.55" y2="818" stroke="#000" stroke-width="3.8" stroke-linecap="butt"/>
<line x1="1262.9" y1="663" x2="1262.9" y2="693.8" stroke="#000" stroke-width="3.8" stroke-linecap="butt"/>
<line x1="1249.65" y1="663" x2="1276.15" y2="663" stroke="#000" stroke-width="3.8" stroke-linecap="butt"/>
<line x1="1249.65" y1="693.8" x2="1276.15" y2="693.8" stroke="#000" stroke-width="3.8" stroke-linecap="butt"/>
<line x1="1343.2" y1="723.6" x2="1343.2" y2="750.5" stroke="#000" stroke-width="3.8" stroke-linecap="butt"/>
<line x1="1329.95" y1="723.6" x2="1356.45" y2="723.6" stroke="#000" stroke-width="3.8" stroke-linecap="butt"/>
<line x1="1329.95" y1="750.5" x2="1356.45" y2="750.5" stroke="#000" stroke-width="3.8" stroke-linecap="butt"/>
<line x1="1423.4" y1="726.5" x2="1423.4" y2="755.1" stroke="#000" stroke-width="3.8" stroke-linecap="butt"/>
<line x1="1410.15" y1="726.5" x2="1436.65" y2="726.5" stroke="#000" stroke-width="3.8" stroke-linecap="butt"/>
<line x1="1410.15" y1="755.1" x2="1436.65" y2="755.1" stroke="#000" stroke-width="3.8" stroke-linecap="butt"/>
<circle cx="1183.1" cy="799.7" r="5.2" fill="#000"/>
<circle cx="1164" cy="808" r="5.2" fill="#000"/>
<circle cx="1202.1" cy="810.4" r="5.2" fill="#000"/>
<circle cx="1172" cy="815" r="5.2" fill="#000"/>
<circle cx="1194" cy="815" r="5.2" fill="#000"/>
<circle cx="1177" cy="819" r="5.2" fill="#000"/>
<circle cx="1189" cy="819" r="5.2" fill="#000"/>
<circle cx="1183.1" cy="821.7" r="5.2" fill="#000"/>
<rect x="1257.9" y="586.8" width="10.4" height="10.4" fill="#000"/>
<rect x="1257.9" y="653.8" width="10.4" height="10.4" fill="#000"/>
<rect x="1242.5" y="667.9" width="10.4" height="10.4" fill="#000"/>
<rect x="1273.6" y="672.9" width="10.4" height="10.4" fill="#000"/>
<rect x="1257.7" y="680.7" width="10.4" height="10.4" fill="#000"/>
<rect x="1249.9" y="685.6" width="10.4" height="10.4" fill="#000"/>
<rect x="1265.3" y="700.1" width="10.4" height="10.4" fill="#000"/>
<rect x="1257.9" y="741.6" width="10.4" height="10.4" fill="#000"/>
<path d="M1337.9 676.5L1348.7 676.5L1343.3 686.9Z" fill="#000"/>
<path d="M1337.9 714.6L1348.7 714.6L1343.3 725Z" fill="#000"/>
<path d="M1330.1 727.9L1340.9 727.9L1335.5 738.3Z" fill="#000"/>
<path d="M1345.8 742.8L1356.6 742.8L1351.2 753.2Z" fill="#000"/>
<path d="M1330.1 763.5L1340.9 763.5L1335.5 773.9Z" fill="#000"/>
<path d="M1345.8 759.4L1356.6 759.4L1351.2 769.8Z" fill="#000"/>
<path d="M1415.5 683.2L1420.9 693.6L1410.1 693.6Z" fill="#000"/>
<path d="M1431 696.8L1436.4 707.2L1425.6 707.2Z" fill="#000"/>
<path d="M1423.3 715.5L1428.7 725.9L1417.9 725.9Z" fill="#000"/>
<path d="M1415.5 747.8L1420.9 758.2L1410.1 758.2Z" fill="#000"/>
<path d="M1439 757.7L1444.4 768.1L1433.6 768.1Z" fill="#000"/>
<path d="M1431 770.1L1436.4 780.5L1425.6 780.5Z" fill="#000"/>
<path d="M1415.5 780.9L1420.9 791.3L1410.1 791.3Z" fill="#000"/>
<line x1="1135.7" y1="831" x2="1464.6" y2="831" stroke="#000" stroke-width="3.8" stroke-linecap="butt"/>
<line x1="1183.3" y1="831" x2="1183.3" y2="839" stroke="#000" stroke-width="3.8" stroke-linecap="butt"/>
<text x="1190.3" y="860" font-size="25" text-anchor="end" transform="rotate(-45 1190.3 860)">Young</text>
<line x1="1262.9" y1="831" x2="1262.9" y2="839" stroke="#000" stroke-width="3.8" stroke-linecap="butt"/>
<text x="1272.4" y="861.5" font-size="25" text-anchor="end" transform="rotate(-45 1272.4 861.5)">VEH</text>
<line x1="1343.2" y1="831" x2="1343.2" y2="839" stroke="#000" stroke-width="3.8" stroke-linecap="butt"/>
<text x="1352.7" y="861.5" font-size="25" text-anchor="end" transform="rotate(-45 1352.7 861.5)">ABT</text>
<line x1="1423.4" y1="831" x2="1423.4" y2="839" stroke="#000" stroke-width="3.8" stroke-linecap="butt"/>
<text x="1432.9" y="861.5" font-size="25" text-anchor="end" transform="rotate(-45 1432.9 861.5)">PZ</text>
<line x1="1244" y1="918.1" x2="1445.2" y2="918.1" stroke="#000" stroke-width="4" stroke-linecap="butt"/>
<text x="1344.6" y="951.5" font-size="24" text-anchor="middle">Aged</text>
<text x="1262" y="577.4" font-size="24.5" font-style="italic" text-anchor="middle">a</text>
<text x="1343.7" y="666" font-size="24.5" font-style="italic" text-anchor="middle">a ,b</text>
<text x="1421.8" y="668.5" font-size="24.5" font-style="italic" text-anchor="middle">a ,b</text>
<text x="1043.3" y="702.5" font-size="24" text-anchor="middle" transform="rotate(-90 1043.3 702.5)"><tspan font-style="italic">Cdkn2a</tspan> mRNA in spleen</text>
<text x="1072.5" y="702.2" font-size="24" text-anchor="middle" transform="rotate(-90 1072.5 702.2)">(Fold change)</text>
<text x="1020" y="542.8" font-size="41.5" text-anchor="start" font-weight="bold">e</text>
<line x1="1630.6" y1="569.7" x2="1630.6" y2="830" stroke="#000" stroke-width="3.8" stroke-linecap="butt"/>
<line x1="1623.1" y1="828.1" x2="1630.6" y2="828.1" stroke="#000" stroke-width="3.8" stroke-linecap="butt"/>
<text x="1611.1" y="836.8" font-size="23.8" text-anchor="end">0</text>
<line x1="1623.1" y1="742.6" x2="1630.6" y2="742.6" stroke="#000" stroke-width="3.8" stroke-linecap="butt"/>
<text x="1611.1" y="751.3" font-size="23.8" text-anchor="end">1</text>
<line x1="1623.1" y1="657.1" x2="1630.6" y2="657.1" stroke="#000" stroke-width="3.8" stroke-linecap="butt"/>
<text x="1611.1" y="665.8" font-size="23.8" text-anchor="end">2</text>
<line x1="1623.1" y1="571.6" x2="1630.6" y2="571.6" stroke="#000" stroke-width="3.8" stroke-linecap="butt"/>
<text x="1611.1" y="580.3" font-size="23.8" text-anchor="end">3</text>
<rect x="1646.3" y="740.9" width="49" height="87.2" fill="#d3d3d3" stroke="#000" stroke-width="3.8"/>
<rect x="1726.8" y="674" width="49" height="154.1" fill="#d3d3d3" stroke="#000" stroke-width="3.8"/>
<rect x="1807.4" y="719.8" width="49" height="108.3" fill="#d3d3d3" stroke="#000" stroke-width="3.8"/>
<rect x="1887.8" y="717.3" width="49" height="110.8" fill="#d3d3d3" stroke="#000" stroke-width="3.8"/>
<line x1="1670.8" y1="729.8" x2="1670.8" y2="748.8" stroke="#000" stroke-width="3.8" stroke-linecap="butt"/>
<line x1="1657.55" y1="729.8" x2="1684.05" y2="729.8" stroke="#000" stroke-width="3.8" stroke-linecap="butt"/>
<line x1="1657.55" y1="748.8" x2="1684.05" y2="748.8" stroke="#000" stroke-width="3.8" stroke-linecap="butt"/>
<line x1="1751.3" y1="659.4" x2="1751.3" y2="684.2" stroke="#000" stroke-width="3.8" stroke-linecap="butt"/>
<line x1="1738.05" y1="659.4" x2="1764.55" y2="659.4" stroke="#000" stroke-width="3.8" stroke-linecap="butt"/>
<line x1="1738.05" y1="684.2" x2="1764.55" y2="684.2" stroke="#000" stroke-width="3.8" stroke-linecap="butt"/>
<line x1="1831.9" y1="709.6" x2="1831.9" y2="726.5" stroke="#000" stroke-width="3.8" stroke-linecap="butt"/>
<line x1="1818.65" y1="709.6" x2="1845.15" y2="709.6" stroke="#000" stroke-width="3.8" stroke-linecap="butt"/>
<line x1="1818.65" y1="726.5" x2="1845.15" y2="726.5" stroke="#000" stroke-width="3.8" stroke-linecap="butt"/>
<line x1="1912.3" y1="709.6" x2="1912.3" y2="721.5" stroke="#000" stroke-width="3.8" stroke-linecap="butt"/>
<line x1="1899.05" y1="709.6" x2="1925.55" y2="709.6" stroke="#000" stroke-width="3.8" stroke-linecap="butt"/>
<line x1="1899.05" y1="721.5" x2="1925.55" y2="721.5" stroke="#000" stroke-width="3.8" stroke-linecap="butt"/>
<circle cx="1655.4" cy="706.6" r="5.2" fill="#000"/>
<circle cx="1670.8" cy="709.1" r="5.2" fill="#000"/>
<circle cx="1686.2" cy="707.4" r="5.2" fill="#000"/>
<circle cx="1662.5" cy="746.3" r="5.2" fill="#000"/>
<circle cx="1678.2" cy="750.5" r="5.2" fill="#000"/>
<circle cx="1655.4" cy="756.8" r="5.2" fill="#000"/>
<circle cx="1670.8" cy="769" r="5.2" fill="#000"/>
<circle cx="1686.2" cy="767.9" r="5.2" fill="#000"/>
<rect x="1746.2" y="615.3" width="10.4" height="10.4" fill="#000"/>
<rect x="1730.7" y="643.4" width="10.4" height="10.4" fill="#000"/>
<rect x="1761.6" y="640.6" width="10.4" height="10.4" fill="#000"/>
<rect x="1746.2" y="656.2" width="10.4" height="10.4" fill="#000"/>
<rect x="1746.2" y="676.5" width="10.4" height="10.4" fill="#000"/>
<rect x="1738.5" y="680.7" width="10.4" height="10.4" fill="#000"/>
<rect x="1753.9" y="693.9" width="10.4" height="10.4" fill="#000"/>
<rect x="1746.2" y="726.7" width="10.4" height="10.4" fill="#000"/>
<path d="M1826.5 680.7L1837.3 680.7L1831.9 691.1Z" fill="#000"/>
<path d="M1826.5 698.9L1837.3 698.9L1831.9 709.3Z" fill="#000"/>
<path d="M1841.8 708L1852.6 708L1847.2 718.4Z" fill="#000"/>
<path d="M1811.1 720.4L1821.9 720.4L1816.5 730.8Z" fill="#000"/>
<path d="M1826.5 722.9L1837.3 722.9L1831.9 733.3Z" fill="#000"/>
<path d="M1826.5 742L1837.3 742L1831.9 752.4Z" fill="#000"/>
<path d="M1904.8 696.4L1910.2 706.8L1899.4 706.8Z" fill="#000"/>
<path d="M1920.4 690.9L1925.8 701.3L1915 701.3Z" fill="#000"/>
<path d="M1928.3 703L1933.7 713.4L1922.9 713.4Z" fill="#000"/>
<path d="M1897.2 712.5L1902.6 722.9L1891.8 722.9Z" fill="#000"/>
<path d="M1904.8 731.7L1910.2 742.1L1899.4 742.1Z" fill="#000"/>
<path d="M1920.4 729L1925.8 739.4L1915 739.4Z" fill="#000"/>
<path d="M1912.3 710.8L1917.7 721.2L1906.9 721.2Z" fill="#000"/>
<line x1="1623.1" y1="828.1" x2="1956" y2="828.1" stroke="#000" stroke-width="3.8" stroke-linecap="butt"/>
<line x1="1670.8" y1="828.1" x2="1670.8" y2="836.1" stroke="#000" stroke-width="3.8" stroke-linecap="butt"/>
<text x="1677.8" y="857.1" font-size="25" text-anchor="end" transform="rotate(-45 1677.8 857.1)">Young</text>
<line x1="1751.3" y1="828.1" x2="1751.3" y2="836.1" stroke="#000" stroke-width="3.8" stroke-linecap="butt"/>
<text x="1760.8" y="858.6" font-size="25" text-anchor="end" transform="rotate(-45 1760.8 858.6)">VEH</text>
<line x1="1831.9" y1="828.1" x2="1831.9" y2="836.1" stroke="#000" stroke-width="3.8" stroke-linecap="butt"/>
<text x="1841.4" y="858.6" font-size="25" text-anchor="end" transform="rotate(-45 1841.4 858.6)">ABT</text>
<line x1="1912.3" y1="828.1" x2="1912.3" y2="836.1" stroke="#000" stroke-width="3.8" stroke-linecap="butt"/>
<text x="1921.8" y="858.6" font-size="25" text-anchor="end" transform="rotate(-45 1921.8 858.6)">PZ</text>
<line x1="1733.1" y1="913.7" x2="1934.4" y2="913.7" stroke="#000" stroke-width="4" stroke-linecap="butt"/>
<text x="1833.75" y="946.5" font-size="24" text-anchor="middle">Aged</text>
<text x="1748.5" y="598.9" font-size="24.5" font-style="italic" text-anchor="middle">a</text>
<text x="1832.5" y="667.3" font-size="24.5" font-style="italic" text-anchor="middle">b</text>
<text x="1911.3" y="675.9" font-size="24.5" font-style="italic" text-anchor="middle">b</text>
<text x="1544.1" y="698.5" font-size="24" text-anchor="middle" transform="rotate(-90 1544.1 698.5)"><tspan font-style="italic">Cdkn1a</tspan> mRNA in spleen</text>
<text x="1573.1" y="699.7" font-size="24" text-anchor="middle" transform="rotate(-90 1573.1 699.7)">(Fold change)</text>
<text x="1514" y="542.8" font-size="41.5" text-anchor="start" font-weight="bold">f</text>
<line x1="132.6" y1="1059.7" x2="132.6" y2="1319.8" stroke="#000" stroke-width="3.8" stroke-linecap="butt"/>
<line x1="125.1" y1="1317.9" x2="132.6" y2="1317.9" stroke="#000" stroke-width="3.8" stroke-linecap="butt"/>
<text x="113.1" y="1326.6" font-size="23.8" text-anchor="end">0</text>
<line x1="125.1" y1="1266.64" x2="132.6" y2="1266.64" stroke="#000" stroke-width="3.8" stroke-linecap="butt"/>
<text x="113.1" y="1275.34" font-size="23.8" text-anchor="end">2</text>
<line x1="125.1" y1="1215.38" x2="132.6" y2="1215.38" stroke="#000" stroke-width="3.8" stroke-linecap="butt"/>
<text x="113.1" y="1224.08" font-size="23.8" text-anchor="end">4</text>
<line x1="125.1" y1="1164.12" x2="132.6" y2="1164.12" stroke="#000" stroke-width="3.8" stroke-linecap="butt"/>
<text x="113.1" y="1172.82" font-size="23.8" text-anchor="end">6</text>
<line x1="125.1" y1="1112.86" x2="132.6" y2="1112.86" stroke="#000" stroke-width="3.8" stroke-linecap="butt"/>
<text x="113.1" y="1121.56" font-size="23.8" text-anchor="end">8</text>
<line x1="125.1" y1="1061.6" x2="132.6" y2="1061.6" stroke="#000" stroke-width="3.8" stroke-linecap="butt"/>
<text x="113.1" y="1070.3" font-size="23.8" text-anchor="end">10</text>
<rect x="148.1" y="1293.2" width="49" height="24.7" fill="#d3d3d3" stroke="#000" stroke-width="3.8"/>
<rect x="228.1" y="1248.8" width="49" height="69.1" fill="#d3d3d3" stroke="#000" stroke-width="3.8"/>
<rect x="308.4" y="1234.4" width="49" height="83.5" fill="#d3d3d3" stroke="#000" stroke-width="3.8"/>
<rect x="388.2" y="1274.5" width="49" height="43.4" fill="#d3d3d3" stroke="#000" stroke-width="3.8"/>
<line x1="172.6" y1="1290" x2="172.6" y2="1296" stroke="#000" stroke-width="3.8" stroke-linecap="butt"/>
<line x1="159.35" y1="1290" x2="185.85" y2="1290" stroke="#000" stroke-width="3.8" stroke-linecap="butt"/>
<line x1="159.35" y1="1296" x2="185.85" y2="1296" stroke="#000" stroke-width="3.8" stroke-linecap="butt"/>
<line x1="252.6" y1="1239.7" x2="252.6" y2="1253.5" stroke="#000" stroke-width="3.8" stroke-linecap="butt"/>
<line x1="239.35" y1="1239.7" x2="265.85" y2="1239.7" stroke="#000" stroke-width="3.8" stroke-linecap="butt"/>
<line x1="239.35" y1="1253.5" x2="265.85" y2="1253.5" stroke="#000" stroke-width="3.8" stroke-linecap="butt"/>
<line x1="332.9" y1="1202" x2="332.9" y2="1262.9" stroke="#000" stroke-width="3.8" stroke-linecap="butt"/>
<line x1="319.65" y1="1202" x2="346.15" y2="1202" stroke="#000" stroke-width="3.8" stroke-linecap="butt"/>
<line x1="319.65" y1="1262.9" x2="346.15" y2="1262.9" stroke="#000" stroke-width="3.8" stroke-linecap="butt"/>
<line x1="412.7" y1="1265.4" x2="412.7" y2="1279.5" stroke="#000" stroke-width="3.8" stroke-linecap="butt"/>
<line x1="399.45" y1="1265.4" x2="425.95" y2="1265.4" stroke="#000" stroke-width="3.8" stroke-linecap="butt"/>
<line x1="399.45" y1="1279.5" x2="425.95" y2="1279.5" stroke="#000" stroke-width="3.8" stroke-linecap="butt"/>
<circle cx="164.8" cy="1282.8" r="5.2" fill="#000"/>
<circle cx="180.2" cy="1282.8" r="5.2" fill="#000"/>
<circle cx="154.8" cy="1290.2" r="5.2" fill="#000"/>
<circle cx="189.6" cy="1287.2" r="5.2" fill="#000"/>
<circle cx="160" cy="1295" r="5.2" fill="#000"/>
<circle cx="168" cy="1297" r="5.2" fill="#000"/>
<circle cx="176" cy="1298" r="5.2" fill="#000"/>
<circle cx="184" cy="1296" r="5.2" fill="#000"/>
<circle cx="172" cy="1293" r="5.2" fill="#000"/>
<rect x="255.3" y="1213.5" width="10.4" height="10.4" fill="#000"/>
<rect x="239.6" y="1221.3" width="10.4" height="10.4" fill="#000"/>
<rect x="263.1" y="1231.2" width="10.4" height="10.4" fill="#000"/>
<rect x="224.2" y="1242" width="10.4" height="10.4" fill="#000"/>
<rect x="247.4" y="1243.6" width="10.4" height="10.4" fill="#000"/>
<rect x="232" y="1254.7" width="10.4" height="10.4" fill="#000"/>
<rect x="262.8" y="1259.7" width="10.4" height="10.4" fill="#000"/>
<rect x="247.4" y="1267.6" width="10.4" height="10.4" fill="#000"/>
<path d="M327.2 1089.6L338 1089.6L332.6 1100Z" fill="#000"/>
<path d="M327.2 1189L338 1189L332.6 1199.4Z" fill="#000"/>
<path d="M319.2 1261L330 1261L324.6 1271.4Z" fill="#000"/>
<path d="M342.9 1263.5L353.7 1263.5L348.3 1273.9Z" fill="#000"/>
<path d="M335 1270.9L345.8 1270.9L340.4 1281.3Z" fill="#000"/>
<path d="M319.7 1283.4L330.5 1283.4L325.1 1293.8Z" fill="#000"/>
<path d="M412.9 1232L418.3 1242.4L407.5 1242.4Z" fill="#000"/>
<path d="M389.2 1266L394.6 1276.4L383.8 1276.4Z" fill="#000"/>
<path d="M428.1 1261.8L433.5 1272.2L422.7 1272.2Z" fill="#000"/>
<path d="M412.9 1266.8L418.3 1277.2L407.5 1277.2Z" fill="#000"/>
<path d="M397.5 1276.8L402.9 1287.2L392.1 1287.2Z" fill="#000"/>
<path d="M428.1 1284.2L433.5 1294.6L422.7 1294.6Z" fill="#000"/>
<path d="M412.9 1288.3L418.3 1298.7L407.5 1298.7Z" fill="#000"/>
<line x1="125.1" y1="1317.9" x2="454.7" y2="1317.9" stroke="#000" stroke-width="3.8" stroke-linecap="butt"/>
<line x1="172.6" y1="1317.9" x2="172.6" y2="1325.9" stroke="#000" stroke-width="3.8" stroke-linecap="butt"/>
<text x="179.6" y="1346.9" font-size="25" text-anchor="end" transform="rotate(-45 179.6 1346.9)">Young</text>
<line x1="252.6" y1="1317.9" x2="252.6" y2="1325.9" stroke="#000" stroke-width="3.8" stroke-linecap="butt"/>
<text x="262.1" y="1348.4" font-size="25" text-anchor="end" transform="rotate(-45 262.1 1348.4)">VEH</text>
<line x1="332.9" y1="1317.9" x2="332.9" y2="1325.9" stroke="#000" stroke-width="3.8" stroke-linecap="butt"/>
<text x="342.4" y="1348.4" font-size="25" text-anchor="end" transform="rotate(-45 342.4 1348.4)">ABT</text>
<line x1="412.7" y1="1317.9" x2="412.7" y2="1325.9" stroke="#000" stroke-width="3.8" stroke-linecap="butt"/>
<text x="422.2" y="1348.4" font-size="25" text-anchor="end" transform="rotate(-45 422.2 1348.4)">PZ</text>
<line x1="231" y1="1403.7" x2="432.3" y2="1403.7" stroke="#000" stroke-width="4" stroke-linecap="butt"/>
<text x="331.65" y="1436.5" font-size="24" text-anchor="middle">Aged</text>
<text x="331" y="1075.7" font-size="24.5" font-style="italic" text-anchor="middle">a</text>
<text x="252.6" y="1194.2" font-size="24.5" font-style="italic" text-anchor="middle">a</text>
<text x="412.6" y="1210.7" font-size="24.5" font-style="italic" text-anchor="middle">b</text>
<text x="32.1" y="1190" font-size="24" text-anchor="middle" transform="rotate(-90 32.1 1190)"><tspan font-style="italic">Il6</tspan> mRNA in spleen</text>
<text x="61" y="1189.9" font-size="24" text-anchor="middle" transform="rotate(-90 61 1189.9)">(Fold change)</text>
<text x="-0.8" y="1032.8" font-size="41.5" text-anchor="start" font-weight="bold">g</text>
<line x1="638.8" y1="1070.1" x2="638.8" y2="1330.9" stroke="#000" stroke-width="3.8" stroke-linecap="butt"/>
<line x1="631.3" y1="1329" x2="638.8" y2="1329" stroke="#000" stroke-width="3.8" stroke-linecap="butt"/>
<text x="619.3" y="1337.7" font-size="23.8" text-anchor="end">0.0</text>
<line x1="631.3" y1="1264.75" x2="638.8" y2="1264.75" stroke="#000" stroke-width="3.8" stroke-linecap="butt"/>
<text x="619.3" y="1273.45" font-size="23.8" text-anchor="end">0.5</text>
<line x1="631.3" y1="1200.5" x2="638.8" y2="1200.5" stroke="#000" stroke-width="3.8" stroke-linecap="butt"/>
<text x="619.3" y="1209.2" font-size="23.8" text-anchor="end">1.0</text>
<line x1="631.3" y1="1136.25" x2="638.8" y2="1136.25" stroke="#000" stroke-width="3.8" stroke-linecap="butt"/>
<text x="619.3" y="1144.95" font-size="23.8" text-anchor="end">1.5</text>
<line x1="631.3" y1="1072" x2="638.8" y2="1072" stroke="#000" stroke-width="3.8" stroke-linecap="butt"/>
<text x="619.3" y="1080.7" font-size="23.8" text-anchor="end">2.0</text>
<rect x="654.1" y="1199.6" width="49" height="129.4" fill="#d3d3d3" stroke="#000" stroke-width="3.8"/>
<rect x="734.3" y="1153.6" width="49" height="175.4" fill="#d3d3d3" stroke="#000" stroke-width="3.8"/>
<rect x="814.4" y="1224" width="49" height="105" fill="#d3d3d3" stroke="#000" stroke-width="3.8"/>
<rect x="894.6" y="1223.6" width="49" height="105.4" fill="#d3d3d3" stroke="#000" stroke-width="3.8"/>
<line x1="678.6" y1="1187.5" x2="678.6" y2="1208.6" stroke="#000" stroke-width="3.8" stroke-linecap="butt"/>
<line x1="665.35" y1="1187.5" x2="691.85" y2="1187.5" stroke="#000" stroke-width="3.8" stroke-linecap="butt"/>
<line x1="665.35" y1="1208.6" x2="691.85" y2="1208.6" stroke="#000" stroke-width="3.8" stroke-linecap="butt"/>
<line x1="758.8" y1="1137.5" x2="758.8" y2="1166" stroke="#000" stroke-width="3.8" stroke-linecap="butt"/>
<line x1="745.55" y1="1137.5" x2="772.05" y2="1137.5" stroke="#000" stroke-width="3.8" stroke-linecap="butt"/>
<line x1="745.55" y1="1166" x2="772.05" y2="1166" stroke="#000" stroke-width="3.8" stroke-linecap="butt"/>
<line x1="838.9" y1="1208.2" x2="838.9" y2="1236.1" stroke="#000" stroke-width="3.8" stroke-linecap="butt"/>
<line x1="825.65" y1="1208.2" x2="852.15" y2="1208.2" stroke="#000" stroke-width="3.8" stroke-linecap="butt"/>
<line x1="825.65" y1="1236.1" x2="852.15" y2="1236.1" stroke="#000" stroke-width="3.8" stroke-linecap="butt"/>
<line x1="919.1" y1="1213.2" x2="919.1" y2="1231.4" stroke="#000" stroke-width="3.8" stroke-linecap="butt"/>
<line x1="905.85" y1="1213.2" x2="932.35" y2="1213.2" stroke="#000" stroke-width="3.8" stroke-linecap="butt"/>
<line x1="905.85" y1="1231.4" x2="932.35" y2="1231.4" stroke="#000" stroke-width="3.8" stroke-linecap="butt"/>
<circle cx="678.9" cy="1144.1" r="5.2" fill="#000"/>
<circle cx="659.9" cy="1189.7" r="5.2" fill="#000"/>
<circle cx="697.6" cy="1188.7" r="5.2" fill="#000"/>
<circle cx="669.8" cy="1195" r="5.2" fill="#000"/>
<circle cx="688" cy="1194.2" r="5.2" fill="#000"/>
<circle cx="678.9" cy="1202.4" r="5.2" fill="#000"/>
<circle cx="686.7" cy="1230.6" r="5.2" fill="#000"/>
<circle cx="671.1" cy="1240.2" r="5.2" fill="#000"/>
<rect x="753.7" y="1087.9" width="10.4" height="10.4" fill="#000"/>
<rect x="753.7" y="1107.5" width="10.4" height="10.4" fill="#000"/>
<rect x="753.7" y="1131.5" width="10.4" height="10.4" fill="#000"/>
<rect x="769" y="1140.6" width="10.4" height="10.4" fill="#000"/>
<rect x="738.3" y="1153" width="10.4" height="10.4" fill="#000"/>
<rect x="753.7" y="1153.7" width="10.4" height="10.4" fill="#000"/>
<rect x="746.1" y="1201.4" width="10.4" height="10.4" fill="#000"/>
<rect x="761.5" y="1200.6" width="10.4" height="10.4" fill="#000"/>
<path d="M833.4 1161.6L844.2 1161.6L838.8 1172Z" fill="#000"/>
<path d="M833.4 1185.6L844.2 1185.6L838.8 1196Z" fill="#000"/>
<path d="M833.4 1223.8L844.2 1223.8L838.8 1234.2Z" fill="#000"/>
<path d="M818.1 1236.2L828.9 1236.2L823.5 1246.6Z" fill="#000"/>
<path d="M849.1 1241.1L859.9 1241.1L854.5 1251.5Z" fill="#000"/>
<path d="M833.4 1245.6L844.2 1245.6L838.8 1256Z" fill="#000"/>
<path d="M919.4 1170.7L924.8 1181.1L914 1181.1Z" fill="#000"/>
<path d="M911.1 1203L916.5 1213.4L905.7 1213.4Z" fill="#000"/>
<path d="M927.4 1217.1L932.8 1227.5L922 1227.5Z" fill="#000"/>
<path d="M939.8 1226.2L945.2 1236.6L934.4 1236.6Z" fill="#000"/>
<path d="M899.2 1235.3L904.6 1245.7L893.8 1245.7Z" fill="#000"/>
<path d="M912.5 1237.8L917.9 1248.2L907.1 1248.2Z" fill="#000"/>
<path d="M926 1235.3L931.4 1245.7L920.6 1245.7Z" fill="#000"/>
<line x1="631.3" y1="1329" x2="961.3" y2="1329" stroke="#000" stroke-width="3.8" stroke-linecap="butt"/>
<line x1="678.6" y1="1329" x2="678.6" y2="1337" stroke="#000" stroke-width="3.8" stroke-linecap="butt"/>
<text x="685.6" y="1358" font-size="25" text-anchor="end" transform="rotate(-45 685.6 1358)">Young</text>
<line x1="758.8" y1="1329" x2="758.8" y2="1337" stroke="#000" stroke-width="3.8" stroke-linecap="butt"/>
<text x="768.3" y="1359.5" font-size="25" text-anchor="end" transform="rotate(-45 768.3 1359.5)">VEH</text>
<line x1="838.9" y1="1329" x2="838.9" y2="1337" stroke="#000" stroke-width="3.8" stroke-linecap="butt"/>
<text x="848.4" y="1359.5" font-size="25" text-anchor="end" transform="rotate(-45 848.4 1359.5)">ABT</text>
<line x1="919.1" y1="1329" x2="919.1" y2="1337" stroke="#000" stroke-width="3.8" stroke-linecap="butt"/>
<text x="928.6" y="1359.5" font-size="25" text-anchor="end" transform="rotate(-45 928.6 1359.5)">PZ</text>
<line x1="739.2" y1="1415" x2="941" y2="1415" stroke="#000" stroke-width="4" stroke-linecap="butt"/>
<text x="840.1" y="1447.5" font-size="24" text-anchor="middle">Aged</text>
<text x="757.3" y="1072.4" font-size="24.5" font-style="italic" text-anchor="middle">a</text>
<text x="837.7" y="1146.1" font-size="24.5" font-style="italic" text-anchor="middle">b</text>
<text x="917.8" y="1150.3" font-size="24.5" font-style="italic" text-anchor="middle">b</text>
<text x="530.8" y="1200" font-size="24" text-anchor="middle" transform="rotate(-90 530.8 1200)"><tspan font-style="italic">Cxcl12</tspan> mRNA in spleen</text>
<text x="560.9" y="1202.2" font-size="24" text-anchor="middle" transform="rotate(-90 560.9 1202.2)">(Fold change)</text>
<text x="510.5" y="1034.3" font-size="41.5" text-anchor="start" font-weight="bold">h</text>
<line x1="1146" y1="1058" x2="1146" y2="1319.1" stroke="#000" stroke-width="3.8" stroke-linecap="butt"/>
<line x1="1138.5" y1="1317.2" x2="1146" y2="1317.2" stroke="#000" stroke-width="3.8" stroke-linecap="butt"/>
<text x="1126.5" y="1325.9" font-size="23.8" text-anchor="end">0</text>
<line x1="1138.5" y1="1265.74" x2="1146" y2="1265.74" stroke="#000" stroke-width="3.8" stroke-linecap="butt"/>
<text x="1126.5" y="1274.44" font-size="23.8" text-anchor="end">1</text>
<line x1="1138.5" y1="1214.28" x2="1146" y2="1214.28" stroke="#000" stroke-width="3.8" stroke-linecap="butt"/>
<text x="1126.5" y="1222.98" font-size="23.8" text-anchor="end">2</text>
<line x1="1138.5" y1="1162.82" x2="1146" y2="1162.82" stroke="#000" stroke-width="3.8" stroke-linecap="butt"/>
<text x="1126.5" y="1171.52" font-size="23.8" text-anchor="end">3</text>
<line x1="1138.5" y1="1111.36" x2="1146" y2="1111.36" stroke="#000" stroke-width="3.8" stroke-linecap="butt"/>
<text x="1126.5" y="1120.06" font-size="23.8" text-anchor="end">4</text>
<line x1="1138.5" y1="1059.9" x2="1146" y2="1059.9" stroke="#000" stroke-width="3.8" stroke-linecap="butt"/>
<text x="1126.5" y="1068.6" font-size="23.8" text-anchor="end">5</text>
<rect x="1161.4" y="1266.5" width="49" height="50.7" fill="#d3d3d3" stroke="#000" stroke-width="3.8"/>
<rect x="1241.4" y="1132.8" width="49" height="184.4" fill="#d3d3d3" stroke="#000" stroke-width="3.8"/>
<rect x="1321.6" y="1165.1" width="49" height="152.1" fill="#d3d3d3" stroke="#000" stroke-width="3.8"/>
<rect x="1401.4" y="1194.1" width="49" height="123.1" fill="#d3d3d3" stroke="#000" stroke-width="3.8"/>
<line x1="1185.9" y1="1260.9" x2="1185.9" y2="1270" stroke="#000" stroke-width="3.8" stroke-linecap="butt"/>
<line x1="1172.65" y1="1260.9" x2="1199.15" y2="1260.9" stroke="#000" stroke-width="3.8" stroke-linecap="butt"/>
<line x1="1172.65" y1="1270" x2="1199.15" y2="1270" stroke="#000" stroke-width="3.8" stroke-linecap="butt"/>
<line x1="1265.9" y1="1119.6" x2="1265.9" y2="1143.6" stroke="#000" stroke-width="3.8" stroke-linecap="butt"/>
<line x1="1252.65" y1="1119.6" x2="1279.15" y2="1119.6" stroke="#000" stroke-width="3.8" stroke-linecap="butt"/>
<line x1="1252.65" y1="1143.6" x2="1279.15" y2="1143.6" stroke="#000" stroke-width="3.8" stroke-linecap="butt"/>
<line x1="1346.1" y1="1148.2" x2="1346.1" y2="1178.4" stroke="#000" stroke-width="3.8" stroke-linecap="butt"/>
<line x1="1332.85" y1="1148.2" x2="1359.35" y2="1148.2" stroke="#000" stroke-width="3.8" stroke-linecap="butt"/>
<line x1="1332.85" y1="1178.4" x2="1359.35" y2="1178.4" stroke="#000" stroke-width="3.8" stroke-linecap="butt"/>
<line x1="1425.9" y1="1175.4" x2="1425.9" y2="1209" stroke="#000" stroke-width="3.8" stroke-linecap="butt"/>
<line x1="1412.65" y1="1175.4" x2="1439.15" y2="1175.4" stroke="#000" stroke-width="3.8" stroke-linecap="butt"/>
<line x1="1412.65" y1="1209" x2="1439.15" y2="1209" stroke="#000" stroke-width="3.8" stroke-linecap="butt"/>
<circle cx="1185.9" cy="1242.7" r="5.2" fill="#000"/>
<circle cx="1185.9" cy="1259.6" r="5.2" fill="#000"/>
<circle cx="1176.5" cy="1262" r="5.2" fill="#000"/>
<circle cx="1195" cy="1262" r="5.2" fill="#000"/>
<circle cx="1171.5" cy="1271.2" r="5.2" fill="#000"/>
<circle cx="1189.7" cy="1271.2" r="5.2" fill="#000"/>
<circle cx="1199.3" cy="1268.7" r="5.2" fill="#000"/>
<circle cx="1181.4" cy="1276.1" r="5.2" fill="#000"/>
<rect x="1260.4" y="1087.9" width="10.4" height="10.4" fill="#000"/>
<rect x="1252.9" y="1093.2" width="10.4" height="10.4" fill="#000"/>
<rect x="1276.1" y="1104" width="10.4" height="10.4" fill="#000"/>
<rect x="1268.7" y="1113.1" width="10.4" height="10.4" fill="#000"/>
<rect x="1252.9" y="1122.7" width="10.4" height="10.4" fill="#000"/>
<rect x="1260.4" y="1145.5" width="10.4" height="10.4" fill="#000"/>
<rect x="1268.7" y="1165.2" width="10.4" height="10.4" fill="#000"/>
<rect x="1252.9" y="1177.7" width="10.4" height="10.4" fill="#000"/>
<path d="M1340.5 1097L1351.3 1097L1345.9 1107.4Z" fill="#000"/>
<path d="M1340.5 1135.1L1351.3 1135.1L1345.9 1145.5Z" fill="#000"/>
<path d="M1340.5 1157.5L1351.3 1157.5L1345.9 1167.9Z" fill="#000"/>
<path d="M1332.6 1176.5L1343.4 1176.5L1338 1186.9Z" fill="#000"/>
<path d="M1348.6 1176.5L1359.4 1176.5L1354 1186.9Z" fill="#000"/>
<path d="M1340.5 1201.4L1351.3 1201.4L1345.9 1211.8Z" fill="#000"/>
<path d="M1426.1 1101.1L1431.5 1111.5L1420.7 1111.5Z" fill="#000"/>
<path d="M1426.1 1164.9L1431.5 1175.3L1420.7 1175.3Z" fill="#000"/>
<path d="M1410.8 1198.9L1416.2 1209.3L1405.4 1209.3Z" fill="#000"/>
<path d="M1441.5 1193.9L1446.9 1204.3L1436.1 1204.3Z" fill="#000"/>
<path d="M1426.1 1202.2L1431.5 1212.6L1420.7 1212.6Z" fill="#000"/>
<path d="M1418.3 1227.8L1423.7 1238.2L1412.9 1238.2Z" fill="#000"/>
<path d="M1434 1224.5L1439.4 1234.9L1428.6 1234.9Z" fill="#000"/>
<line x1="1138.5" y1="1317.2" x2="1468.3" y2="1317.2" stroke="#000" stroke-width="3.8" stroke-linecap="butt"/>
<line x1="1185.9" y1="1317.2" x2="1185.9" y2="1325.2" stroke="#000" stroke-width="3.8" stroke-linecap="butt"/>
<text x="1192.9" y="1346.2" font-size="25" text-anchor="end" transform="rotate(-45 1192.9 1346.2)">Young</text>
<line x1="1265.9" y1="1317.2" x2="1265.9" y2="1325.2" stroke="#000" stroke-width="3.8" stroke-linecap="butt"/>
<text x="1275.4" y="1347.7" font-size="25" text-anchor="end" transform="rotate(-45 1275.4 1347.7)">VEH</text>
<line x1="1346.1" y1="1317.2" x2="1346.1" y2="1325.2" stroke="#000" stroke-width="3.8" stroke-linecap="butt"/>
<text x="1355.6" y="1347.7" font-size="25" text-anchor="end" transform="rotate(-45 1355.6 1347.7)">ABT</text>
<line x1="1425.9" y1="1317.2" x2="1425.9" y2="1325.2" stroke="#000" stroke-width="3.8" stroke-linecap="butt"/>
<text x="1435.4" y="1347.7" font-size="25" text-anchor="end" transform="rotate(-45 1435.4 1347.7)">PZ</text>
<line x1="1247.2" y1="1402.5" x2="1449.2" y2="1402.5" stroke="#000" stroke-width="4" stroke-linecap="butt"/>
<text x="1348.2" y="1435.5" font-size="24" text-anchor="middle">Aged</text>
<text x="1264.7" y="1071.6" font-size="24.5" font-style="italic" text-anchor="middle">a</text>
<text x="1344.2" y="1092.3" font-size="24.5" font-style="italic" text-anchor="middle">a</text>
<text x="1425.3" y="1089" font-size="24.5" font-style="italic" text-anchor="middle">a ,b</text>
<text x="1056.9" y="1188.2" font-size="24" text-anchor="middle" transform="rotate(-90 1056.9 1188.2)"><tspan font-style="italic">Mmp3</tspan> mRNA in spleen</text>
<text x="1085.8" y="1189.2" font-size="24" text-anchor="middle" transform="rotate(-90 1085.8 1189.2)">(Fold change)</text>
<text x="1021" y="1033.1" font-size="41.5" text-anchor="start" font-weight="bold">i</text>
<line x1="1631.5" y1="1056.7" x2="1631.5" y2="1316.9" stroke="#000" stroke-width="3.8" stroke-linecap="butt"/>
<line x1="1624" y1="1315" x2="1631.5" y2="1315" stroke="#000" stroke-width="3.8" stroke-linecap="butt"/>
<text x="1612" y="1323.7" font-size="23.8" text-anchor="end">0</text>
<line x1="1624" y1="1229.53" x2="1631.5" y2="1229.53" stroke="#000" stroke-width="3.8" stroke-linecap="butt"/>
<text x="1612" y="1238.23" font-size="23.8" text-anchor="end">1</text>
<line x1="1624" y1="1144.07" x2="1631.5" y2="1144.07" stroke="#000" stroke-width="3.8" stroke-linecap="butt"/>
<text x="1612" y="1152.77" font-size="23.8" text-anchor="end">2</text>
<line x1="1624" y1="1058.6" x2="1631.5" y2="1058.6" stroke="#000" stroke-width="3.8" stroke-linecap="butt"/>
<text x="1612" y="1067.3" font-size="23.8" text-anchor="end">3</text>
<rect x="1646.6" y="1229.4" width="49" height="85.6" fill="#d3d3d3" stroke="#000" stroke-width="3.8"/>
<rect x="1726.4" y="1140.6" width="49" height="174.4" fill="#d3d3d3" stroke="#000" stroke-width="3.8"/>
<rect x="1806.3" y="1197.1" width="49" height="117.9" fill="#d3d3d3" stroke="#000" stroke-width="3.8"/>
<rect x="1886.1" y="1185.8" width="49" height="129.2" fill="#d3d3d3" stroke="#000" stroke-width="3.8"/>
<line x1="1671.1" y1="1220.3" x2="1671.1" y2="1234.7" stroke="#000" stroke-width="3.8" stroke-linecap="butt"/>
<line x1="1657.85" y1="1220.3" x2="1684.35" y2="1220.3" stroke="#000" stroke-width="3.8" stroke-linecap="butt"/>
<line x1="1657.85" y1="1234.7" x2="1684.35" y2="1234.7" stroke="#000" stroke-width="3.8" stroke-linecap="butt"/>
<line x1="1750.9" y1="1127.5" x2="1750.9" y2="1149.9" stroke="#000" stroke-width="3.8" stroke-linecap="butt"/>
<line x1="1737.65" y1="1127.5" x2="1764.15" y2="1127.5" stroke="#000" stroke-width="3.8" stroke-linecap="butt"/>
<line x1="1737.65" y1="1149.9" x2="1764.15" y2="1149.9" stroke="#000" stroke-width="3.8" stroke-linecap="butt"/>
<line x1="1830.8" y1="1184.2" x2="1830.8" y2="1206.5" stroke="#000" stroke-width="3.8" stroke-linecap="butt"/>
<line x1="1817.55" y1="1184.2" x2="1844.05" y2="1184.2" stroke="#000" stroke-width="3.8" stroke-linecap="butt"/>
<line x1="1817.55" y1="1206.5" x2="1844.05" y2="1206.5" stroke="#000" stroke-width="3.8" stroke-linecap="butt"/>
<line x1="1910.6" y1="1167.9" x2="1910.6" y2="1201.1" stroke="#000" stroke-width="3.8" stroke-linecap="butt"/>
<line x1="1897.35" y1="1167.9" x2="1923.85" y2="1167.9" stroke="#000" stroke-width="3.8" stroke-linecap="butt"/>
<line x1="1897.35" y1="1201.1" x2="1923.85" y2="1201.1" stroke="#000" stroke-width="3.8" stroke-linecap="butt"/>
<circle cx="1663.3" cy="1197.1" r="5.2" fill="#000"/>
<circle cx="1678.7" cy="1195.4" r="5.2" fill="#000"/>
<circle cx="1671.1" cy="1226.4" r="5.2" fill="#000"/>
<circle cx="1652.1" cy="1230.9" r="5.2" fill="#000"/>
<circle cx="1661.7" cy="1240.5" r="5.2" fill="#000"/>
<circle cx="1680.7" cy="1241.8" r="5.2" fill="#000"/>
<circle cx="1689.8" cy="1240.5" r="5.2" fill="#000"/>
<circle cx="1671.1" cy="1246.8" r="5.2" fill="#000"/>
<rect x="1745.6" y="1072.6" width="10.4" height="10.4" fill="#000"/>
<rect x="1730.2" y="1119.7" width="10.4" height="10.4" fill="#000"/>
<rect x="1761.2" y="1116.4" width="10.4" height="10.4" fill="#000"/>
<rect x="1745.6" y="1130.6" width="10.4" height="10.4" fill="#000"/>
<rect x="1765.5" y="1148.8" width="10.4" height="10.4" fill="#000"/>
<rect x="1726" y="1159.9" width="10.4" height="10.4" fill="#000"/>
<rect x="1739.3" y="1160.7" width="10.4" height="10.4" fill="#000"/>
<rect x="1752.5" y="1159.9" width="10.4" height="10.4" fill="#000"/>
<path d="M1817.4 1161.6L1828.2 1161.6L1822.8 1172Z" fill="#000"/>
<path d="M1833 1157.4L1843.8 1157.4L1838.4 1167.8Z" fill="#000"/>
<path d="M1840.6 1185.3L1851.4 1185.3L1846 1195.7Z" fill="#000"/>
<path d="M1809.1 1197.2L1819.9 1197.2L1814.5 1207.6Z" fill="#000"/>
<path d="M1825.2 1198.8L1836 1198.8L1830.6 1209.2Z" fill="#000"/>
<path d="M1825.2 1232.8L1836 1232.8L1830.6 1243.2Z" fill="#000"/>
<path d="M1910.1 1123.5L1915.5 1133.9L1904.7 1133.9Z" fill="#000"/>
<path d="M1918.1 1133.4L1923.5 1143.8L1912.7 1143.8Z" fill="#000"/>
<path d="M1902.7 1146.7L1908.1 1157.1L1897.3 1157.1Z" fill="#000"/>
<path d="M1902.7 1204.6L1908.1 1215L1897.3 1215Z" fill="#000"/>
<path d="M1925.9 1206.8L1931.3 1217.2L1920.5 1217.2Z" fill="#000"/>
<path d="M1918.1 1218.7L1923.5 1229.1L1912.7 1229.1Z" fill="#000"/>
<path d="M1902.7 1227.8L1908.1 1238.2L1897.3 1238.2Z" fill="#000"/>
<line x1="1624" y1="1315" x2="1951.8" y2="1315" stroke="#000" stroke-width="3.8" stroke-linecap="butt"/>
<line x1="1671.1" y1="1315" x2="1671.1" y2="1323" stroke="#000" stroke-width="3.8" stroke-linecap="butt"/>
<text x="1678.1" y="1344" font-size="25" text-anchor="end" transform="rotate(-45 1678.1 1344)">Young</text>
<line x1="1750.9" y1="1315" x2="1750.9" y2="1323" stroke="#000" stroke-width="3.8" stroke-linecap="butt"/>
<text x="1760.4" y="1345.5" font-size="25" text-anchor="end" transform="rotate(-45 1760.4 1345.5)">VEH</text>
<line x1="1830.8" y1="1315" x2="1830.8" y2="1323" stroke="#000" stroke-width="3.8" stroke-linecap="butt"/>
<text x="1840.3" y="1345.5" font-size="25" text-anchor="end" transform="rotate(-45 1840.3 1345.5)">ABT</text>
<line x1="1910.6" y1="1315" x2="1910.6" y2="1323" stroke="#000" stroke-width="3.8" stroke-linecap="butt"/>
<text x="1920.1" y="1345.5" font-size="25" text-anchor="end" transform="rotate(-45 1920.1 1345.5)">PZ</text>
<line x1="1733.1" y1="1401.7" x2="1934.9" y2="1401.7" stroke="#000" stroke-width="4" stroke-linecap="butt"/>
<text x="1834" y="1434" font-size="24" text-anchor="middle">Aged</text>
<text x="1747.4" y="1062.4" font-size="24.5" font-style="italic" text-anchor="middle">a</text>
<text x="1832" y="1147.4" font-size="24.5" font-style="italic" text-anchor="middle">b</text>
<text x="1910.9" y="1111.6" font-size="24.5" font-style="italic" text-anchor="middle">b</text>
<text x="1546.6" y="1184.4" font-size="24" text-anchor="middle" transform="rotate(-90 1546.6 1184.4)"><tspan font-style="italic">Tnfsf11</tspan> mRNA in spleen</text>
<text x="1575.5" y="1188" font-size="24" text-anchor="middle" transform="rotate(-90 1575.5 1188)">(Fold change)</text>
<text x="1514.5" y="1034.3" font-size="41.5" text-anchor="start" font-weight="bold">j</text>
<line x1="136" y1="1566.1" x2="136" y2="1827.4" stroke="#000" stroke-width="3.8" stroke-linecap="butt"/>
<line x1="128.5" y1="1825.5" x2="136" y2="1825.5" stroke="#000" stroke-width="3.8" stroke-linecap="butt"/>
<text x="116.5" y="1834.2" font-size="23.8" text-anchor="end">0</text>
<line x1="128.5" y1="1774" x2="136" y2="1774" stroke="#000" stroke-width="3.8" stroke-linecap="butt"/>
<text x="116.5" y="1782.7" font-size="23.8" text-anchor="end">2</text>
<line x1="128.5" y1="1722.5" x2="136" y2="1722.5" stroke="#000" stroke-width="3.8" stroke-linecap="butt"/>
<text x="116.5" y="1731.2" font-size="23.8" text-anchor="end">4</text>
<line x1="128.5" y1="1671" x2="136" y2="1671" stroke="#000" stroke-width="3.8" stroke-linecap="butt"/>
<text x="116.5" y="1679.7" font-size="23.8" text-anchor="end">6</text>
<line x1="128.5" y1="1619.5" x2="136" y2="1619.5" stroke="#000" stroke-width="3.8" stroke-linecap="butt"/>
<text x="116.5" y="1628.2" font-size="23.8" text-anchor="end">8</text>
<line x1="128.5" y1="1568" x2="136" y2="1568" stroke="#000" stroke-width="3.8" stroke-linecap="butt"/>
<text x="116.5" y="1576.7" font-size="23.8" text-anchor="end">10</text>
<rect x="151.4" y="1799" width="49" height="26.5" fill="#d3d3d3" stroke="#000" stroke-width="3.8"/>
<rect x="231.4" y="1656.1" width="49" height="169.4" fill="#d3d3d3" stroke="#000" stroke-width="3.8"/>
<rect x="311.2" y="1710.7" width="49" height="114.8" fill="#d3d3d3" stroke="#000" stroke-width="3.8"/>
<rect x="391.2" y="1768.4" width="49" height="57.1" fill="#d3d3d3" stroke="#000" stroke-width="3.8"/>
<line x1="175.9" y1="1792.7" x2="175.9" y2="1803" stroke="#000" stroke-width="3.8" stroke-linecap="butt"/>
<line x1="162.65" y1="1792.7" x2="189.15" y2="1792.7" stroke="#000" stroke-width="3.8" stroke-linecap="butt"/>
<line x1="162.65" y1="1803" x2="189.15" y2="1803" stroke="#000" stroke-width="3.8" stroke-linecap="butt"/>
<line x1="255.9" y1="1637.5" x2="255.9" y2="1671.8" stroke="#000" stroke-width="3.8" stroke-linecap="butt"/>
<line x1="242.65" y1="1637.5" x2="269.15" y2="1637.5" stroke="#000" stroke-width="3.8" stroke-linecap="butt"/>
<line x1="242.65" y1="1671.8" x2="269.15" y2="1671.8" stroke="#000" stroke-width="3.8" stroke-linecap="butt"/>
<line x1="335.7" y1="1690.8" x2="335.7" y2="1727.3" stroke="#000" stroke-width="3.8" stroke-linecap="butt"/>
<line x1="322.45" y1="1690.8" x2="348.95" y2="1690.8" stroke="#000" stroke-width="3.8" stroke-linecap="butt"/>
<line x1="322.45" y1="1727.3" x2="348.95" y2="1727.3" stroke="#000" stroke-width="3.8" stroke-linecap="butt"/>
<line x1="415.7" y1="1756.3" x2="415.7" y2="1777.5" stroke="#000" stroke-width="3.8" stroke-linecap="butt"/>
<line x1="402.45" y1="1756.3" x2="428.95" y2="1756.3" stroke="#000" stroke-width="3.8" stroke-linecap="butt"/>
<line x1="402.45" y1="1777.5" x2="428.95" y2="1777.5" stroke="#000" stroke-width="3.8" stroke-linecap="butt"/>
<circle cx="175.9" cy="1775" r="5.2" fill="#000"/>
<circle cx="155.7" cy="1788.6" r="5.2" fill="#000"/>
<circle cx="195.8" cy="1794.4" r="5.2" fill="#000"/>
<circle cx="160.7" cy="1801.8" r="5.2" fill="#000"/>
<circle cx="182.2" cy="1800.2" r="5.2" fill="#000"/>
<circle cx="191.3" cy="1803.5" r="5.2" fill="#000"/>
<circle cx="169.8" cy="1799.3" r="5.2" fill="#000"/>
<circle cx="175.9" cy="1815.9" r="5.2" fill="#000"/>
<rect x="242.9" y="1586.3" width="10.4" height="10.4" fill="#000"/>
<rect x="258.2" y="1587.1" width="10.4" height="10.4" fill="#000"/>
<rect x="250.7" y="1631" width="10.4" height="10.4" fill="#000"/>
<rect x="250.7" y="1649.2" width="10.4" height="10.4" fill="#000"/>
<rect x="258.2" y="1658.3" width="10.4" height="10.4" fill="#000"/>
<rect x="242.9" y="1670.4" width="10.4" height="10.4" fill="#000"/>
<rect x="250.7" y="1687.3" width="10.4" height="10.4" fill="#000"/>
<rect x="250.7" y="1725.1" width="10.4" height="10.4" fill="#000"/>
<path d="M330.5 1625.2L341.3 1625.2L335.9 1635.6Z" fill="#000"/>
<path d="M330.5 1679L341.3 1679L335.9 1689.4Z" fill="#000"/>
<path d="M315.1 1731.2L325.9 1731.2L320.5 1741.6Z" fill="#000"/>
<path d="M346.1 1732.9L356.9 1732.9L351.5 1743.3Z" fill="#000"/>
<path d="M330.5 1740.3L341.3 1740.3L335.9 1750.7Z" fill="#000"/>
<path d="M330.5 1709.8L341.3 1709.8L335.9 1720.2Z" fill="#000"/>
<path d="M416.1 1713.8L421.5 1724.2L410.7 1724.2Z" fill="#000"/>
<path d="M416.1 1740.3L421.5 1750.7L410.7 1750.7Z" fill="#000"/>
<path d="M416.1 1756.9L421.5 1767.3L410.7 1767.3Z" fill="#000"/>
<path d="M408.3 1770.1L413.7 1780.5L402.9 1780.5Z" fill="#000"/>
<path d="M431.5 1772.6L436.9 1783L426.1 1783Z" fill="#000"/>
<path d="M424 1785L429.4 1795.4L418.6 1795.4Z" fill="#000"/>
<path d="M408.3 1798.3L413.7 1808.7L402.9 1808.7Z" fill="#000"/>
<line x1="128.5" y1="1825.5" x2="457.9" y2="1825.5" stroke="#000" stroke-width="3.8" stroke-linecap="butt"/>
<line x1="175.9" y1="1825.5" x2="175.9" y2="1833.5" stroke="#000" stroke-width="3.8" stroke-linecap="butt"/>
<text x="182.9" y="1854.5" font-size="25" text-anchor="end" transform="rotate(-45 182.9 1854.5)">Young</text>
<line x1="255.9" y1="1825.5" x2="255.9" y2="1833.5" stroke="#000" stroke-width="3.8" stroke-linecap="butt"/>
<text x="265.4" y="1856" font-size="25" text-anchor="end" transform="rotate(-45 265.4 1856)">VEH</text>
<line x1="335.7" y1="1825.5" x2="335.7" y2="1833.5" stroke="#000" stroke-width="3.8" stroke-linecap="butt"/>
<text x="345.2" y="1856" font-size="25" text-anchor="end" transform="rotate(-45 345.2 1856)">ABT</text>
<line x1="415.7" y1="1825.5" x2="415.7" y2="1833.5" stroke="#000" stroke-width="3.8" stroke-linecap="butt"/>
<text x="425.2" y="1856" font-size="25" text-anchor="end" transform="rotate(-45 425.2 1856)">PZ</text>
<line x1="236" y1="1910.4" x2="437.3" y2="1910.4" stroke="#000" stroke-width="4" stroke-linecap="butt"/>
<text x="336.65" y="1942.7" font-size="24" text-anchor="middle">Aged</text>
<text x="254.9" y="1577.4" font-size="24.5" font-style="italic" text-anchor="middle">a</text>
<text x="334.4" y="1618" font-size="24.5" font-style="italic" text-anchor="middle">a</text>
<text x="416.2" y="1699.5" font-size="24.5" font-style="italic" text-anchor="middle">b ,c</text>
<text x="38.3" y="1695.6" font-size="24" text-anchor="middle" transform="rotate(-90 38.3 1695.6)"><tspan font-style="italic">Cdkn2a</tspan> mRNA in liver</text>
<text x="67.2" y="1697.9" font-size="24" text-anchor="middle" transform="rotate(-90 67.2 1697.9)">(Fold change)</text>
<text x="0" y="1545" font-size="41.5" text-anchor="start" font-weight="bold">k</text>
<line x1="639.1" y1="1568.1" x2="639.1" y2="1828" stroke="#000" stroke-width="3.8" stroke-linecap="butt"/>
<line x1="631.6" y1="1826.1" x2="639.1" y2="1826.1" stroke="#000" stroke-width="3.8" stroke-linecap="butt"/>
<text x="619.6" y="1834.8" font-size="23.8" text-anchor="end">0</text>
<line x1="631.6" y1="1762.07" x2="639.1" y2="1762.07" stroke="#000" stroke-width="3.8" stroke-linecap="butt"/>
<text x="619.6" y="1770.77" font-size="23.8" text-anchor="end">2</text>
<line x1="631.6" y1="1698.05" x2="639.1" y2="1698.05" stroke="#000" stroke-width="3.8" stroke-linecap="butt"/>
<text x="619.6" y="1706.75" font-size="23.8" text-anchor="end">4</text>
<line x1="631.6" y1="1634.03" x2="639.1" y2="1634.03" stroke="#000" stroke-width="3.8" stroke-linecap="butt"/>
<text x="619.6" y="1642.73" font-size="23.8" text-anchor="end">6</text>
<line x1="631.6" y1="1570" x2="639.1" y2="1570" stroke="#000" stroke-width="3.8" stroke-linecap="butt"/>
<text x="619.6" y="1578.7" font-size="23.8" text-anchor="end">8</text>
<rect x="654.3" y="1794.9" width="49" height="31.2" fill="#d3d3d3" stroke="#000" stroke-width="3.8"/>
<rect x="734.4" y="1724" width="49" height="102.1" fill="#d3d3d3" stroke="#000" stroke-width="3.8"/>
<rect x="814.4" y="1747.2" width="49" height="78.9" fill="#d3d3d3" stroke="#000" stroke-width="3.8"/>
<rect x="894.9" y="1760.4" width="49" height="65.7" fill="#d3d3d3" stroke="#000" stroke-width="3.8"/>
<line x1="678.8" y1="1790.2" x2="678.8" y2="1797" stroke="#000" stroke-width="3.8" stroke-linecap="butt"/>
<line x1="665.55" y1="1790.2" x2="692.05" y2="1790.2" stroke="#000" stroke-width="3.8" stroke-linecap="butt"/>
<line x1="665.55" y1="1797" x2="692.05" y2="1797" stroke="#000" stroke-width="3.8" stroke-linecap="butt"/>
<line x1="758.9" y1="1705.8" x2="758.9" y2="1738.9" stroke="#000" stroke-width="3.8" stroke-linecap="butt"/>
<line x1="745.65" y1="1705.8" x2="772.15" y2="1705.8" stroke="#000" stroke-width="3.8" stroke-linecap="butt"/>
<line x1="745.65" y1="1738.9" x2="772.15" y2="1738.9" stroke="#000" stroke-width="3.8" stroke-linecap="butt"/>
<line x1="838.9" y1="1738.6" x2="838.9" y2="1753" stroke="#000" stroke-width="3.8" stroke-linecap="butt"/>
<line x1="825.65" y1="1738.6" x2="852.15" y2="1738.6" stroke="#000" stroke-width="3.8" stroke-linecap="butt"/>
<line x1="825.65" y1="1753" x2="852.15" y2="1753" stroke="#000" stroke-width="3.8" stroke-linecap="butt"/>
<line x1="919.4" y1="1755.1" x2="919.4" y2="1762.9" stroke="#000" stroke-width="3.8" stroke-linecap="butt"/>
<line x1="906.15" y1="1755.1" x2="932.65" y2="1755.1" stroke="#000" stroke-width="3.8" stroke-linecap="butt"/>
<line x1="906.15" y1="1762.9" x2="932.65" y2="1762.9" stroke="#000" stroke-width="3.8" stroke-linecap="butt"/>
<circle cx="663.7" cy="1785.3" r="5.2" fill="#000"/>
<circle cx="678.9" cy="1786.9" r="5.2" fill="#000"/>
<circle cx="694.3" cy="1784.4" r="5.2" fill="#000"/>
<circle cx="659.9" cy="1794" r="5.2" fill="#000"/>
<circle cx="669.5" cy="1797.7" r="5.2" fill="#000"/>
<circle cx="688" cy="1797.7" r="5.2" fill="#000"/>
<circle cx="698" cy="1795.2" r="5.2" fill="#000"/>
<circle cx="678.9" cy="1804.3" r="5.2" fill="#000"/>
<rect x="753.7" y="1611.1" width="10.4" height="10.4" fill="#000"/>
<rect x="753.7" y="1692.3" width="10.4" height="10.4" fill="#000"/>
<rect x="738.7" y="1724.6" width="10.4" height="10.4" fill="#000"/>
<rect x="769" y="1722.9" width="10.4" height="10.4" fill="#000"/>
<rect x="753.7" y="1727.9" width="10.4" height="10.4" fill="#000"/>
<rect x="738.7" y="1748.6" width="10.4" height="10.4" fill="#000"/>
<rect x="753.7" y="1755.2" width="10.4" height="10.4" fill="#000"/>
<rect x="769" y="1751.9" width="10.4" height="10.4" fill="#000"/>
<path d="M833.7 1716.8L844.5 1716.8L839.1 1727.2Z" fill="#000"/>
<path d="M814 1733.4L824.8 1733.4L819.4 1743.8Z" fill="#000"/>
<path d="M854.1 1733.4L864.9 1733.4L859.5 1743.8Z" fill="#000"/>
<path d="M833.7 1746.1L844.5 1746.1L839.1 1756.5Z" fill="#000"/>
<path d="M833.7 1766.8L844.5 1766.8L839.1 1777.2Z" fill="#000"/>
<path d="M824.6 1742.8L835.4 1742.8L830 1753.2Z" fill="#000"/>
<path d="M899.2 1744.9L904.6 1755.3L893.8 1755.3Z" fill="#000"/>
<path d="M912.5 1746.1L917.9 1756.5L907.1 1756.5Z" fill="#000"/>
<path d="M939 1744.9L944.4 1755.3L933.6 1755.3Z" fill="#000"/>
<path d="M926 1751.1L931.4 1761.5L920.6 1761.5Z" fill="#000"/>
<path d="M904.2 1761.5L909.6 1771.9L898.8 1771.9Z" fill="#000"/>
<path d="M934.8 1762.7L940.2 1773.1L929.4 1773.1Z" fill="#000"/>
<path d="M919.4 1769.3L924.8 1779.7L914 1779.7Z" fill="#000"/>
<line x1="631.6" y1="1826.1" x2="961.3" y2="1826.1" stroke="#000" stroke-width="3.8" stroke-linecap="butt"/>
<line x1="678.8" y1="1826.1" x2="678.8" y2="1834.1" stroke="#000" stroke-width="3.8" stroke-linecap="butt"/>
<text x="685.8" y="1855.1" font-size="25" text-anchor="end" transform="rotate(-45 685.8 1855.1)">Young</text>
<line x1="758.9" y1="1826.1" x2="758.9" y2="1834.1" stroke="#000" stroke-width="3.8" stroke-linecap="butt"/>
<text x="768.4" y="1856.6" font-size="25" text-anchor="end" transform="rotate(-45 768.4 1856.6)">VEH</text>
<line x1="838.9" y1="1826.1" x2="838.9" y2="1834.1" stroke="#000" stroke-width="3.8" stroke-linecap="butt"/>
<text x="848.4" y="1856.6" font-size="25" text-anchor="end" transform="rotate(-45 848.4 1856.6)">ABT</text>
<line x1="919.4" y1="1826.1" x2="919.4" y2="1834.1" stroke="#000" stroke-width="3.8" stroke-linecap="butt"/>
<text x="928.9" y="1856.6" font-size="25" text-anchor="end" transform="rotate(-45 928.9 1856.6)">PZ</text>
<line x1="739.7" y1="1912.4" x2="941.7" y2="1912.4" stroke="#000" stroke-width="4" stroke-linecap="butt"/>
<text x="840.7" y="1945.2" font-size="24" text-anchor="middle">Aged</text>
<text x="757.8" y="1600.6" font-size="24.5" font-style="italic" text-anchor="middle">a</text>
<text x="837.1" y="1699.1" font-size="24.5" font-style="italic" text-anchor="middle">a</text>
<text x="921.2" y="1727.6" font-size="24.5" font-style="italic" text-anchor="middle">b</text>
<text x="553.2" y="1696.8" font-size="24" text-anchor="middle" transform="rotate(-90 553.2 1696.8)"><tspan font-style="italic">Cdkn2a</tspan> mRNA in lung</text>
<text x="580.8" y="1699" font-size="24" text-anchor="middle" transform="rotate(-90 580.8 1699)">(Fold change)</text>
<text x="511" y="1545.5" font-size="41.5" text-anchor="start" font-weight="bold">l</text>
<line x1="1143.2" y1="1566.1" x2="1143.2" y2="1827.5" stroke="#000" stroke-width="3.8" stroke-linecap="butt"/>
<line x1="1135.7" y1="1825.6" x2="1143.2" y2="1825.6" stroke="#000" stroke-width="3.8" stroke-linecap="butt"/>
<text x="1123.7" y="1834.3" font-size="23.8" text-anchor="end">0</text>
<line x1="1135.7" y1="1761.2" x2="1143.2" y2="1761.2" stroke="#000" stroke-width="3.8" stroke-linecap="butt"/>
<text x="1123.7" y="1769.9" font-size="23.8" text-anchor="end">10</text>
<line x1="1135.7" y1="1696.8" x2="1143.2" y2="1696.8" stroke="#000" stroke-width="3.8" stroke-linecap="butt"/>
<text x="1123.7" y="1705.5" font-size="23.8" text-anchor="end">20</text>
<line x1="1135.7" y1="1632.4" x2="1143.2" y2="1632.4" stroke="#000" stroke-width="3.8" stroke-linecap="butt"/>
<text x="1123.7" y="1641.1" font-size="23.8" text-anchor="end">30</text>
<line x1="1135.7" y1="1568" x2="1143.2" y2="1568" stroke="#000" stroke-width="3.8" stroke-linecap="butt"/>
<text x="1123.7" y="1576.7" font-size="23.8" text-anchor="end">40</text>
<rect x="1158.6" y="1818.9" width="49" height="6.7" fill="#d3d3d3" stroke="#000" stroke-width="3.8"/>
<rect x="1238.4" y="1727.3" width="49" height="98.3" fill="#d3d3d3" stroke="#000" stroke-width="3.8"/>
<rect x="1318.7" y="1720.3" width="49" height="105.3" fill="#d3d3d3" stroke="#000" stroke-width="3.8"/>
<rect x="1399.1" y="1770.4" width="49" height="55.2" fill="#d3d3d3" stroke="#000" stroke-width="3.8"/>
<line x1="1183.1" y1="1817" x2="1183.1" y2="1821" stroke="#000" stroke-width="3.8" stroke-linecap="butt"/>
<line x1="1169.85" y1="1817" x2="1196.35" y2="1817" stroke="#000" stroke-width="3.8" stroke-linecap="butt"/>
<line x1="1169.85" y1="1821" x2="1196.35" y2="1821" stroke="#000" stroke-width="3.8" stroke-linecap="butt"/>
<line x1="1262.9" y1="1706.3" x2="1262.9" y2="1745.2" stroke="#000" stroke-width="3.8" stroke-linecap="butt"/>
<line x1="1249.65" y1="1706.3" x2="1276.15" y2="1706.3" stroke="#000" stroke-width="3.8" stroke-linecap="butt"/>
<line x1="1249.65" y1="1745.2" x2="1276.15" y2="1745.2" stroke="#000" stroke-width="3.8" stroke-linecap="butt"/>
<line x1="1343.2" y1="1688" x2="1343.2" y2="1748.8" stroke="#000" stroke-width="3.8" stroke-linecap="butt"/>
<line x1="1329.95" y1="1688" x2="1356.45" y2="1688" stroke="#000" stroke-width="3.8" stroke-linecap="butt"/>
<line x1="1329.95" y1="1748.8" x2="1356.45" y2="1748.8" stroke="#000" stroke-width="3.8" stroke-linecap="butt"/>
<line x1="1423.6" y1="1760.4" x2="1423.6" y2="1776.2" stroke="#000" stroke-width="3.8" stroke-linecap="butt"/>
<line x1="1410.35" y1="1760.4" x2="1436.85" y2="1760.4" stroke="#000" stroke-width="3.8" stroke-linecap="butt"/>
<line x1="1410.35" y1="1776.2" x2="1436.85" y2="1776.2" stroke="#000" stroke-width="3.8" stroke-linecap="butt"/>
<circle cx="1175.3" cy="1811.4" r="5.2" fill="#000"/>
<circle cx="1190.9" cy="1810.9" r="5.2" fill="#000"/>
<circle cx="1166" cy="1817.6" r="5.2" fill="#000"/>
<circle cx="1200.5" cy="1815.1" r="5.2" fill="#000"/>
<circle cx="1172" cy="1821.7" r="5.2" fill="#000"/>
<circle cx="1183" cy="1822.5" r="5.2" fill="#000"/>
<circle cx="1194" cy="1821.7" r="5.2" fill="#000"/>
<circle cx="1183.1" cy="1818" r="5.2" fill="#000"/>
<rect x="1257.9" y="1591.2" width="10.4" height="10.4" fill="#000"/>
<rect x="1242.5" y="1713.5" width="10.4" height="10.4" fill="#000"/>
<rect x="1273.1" y="1722.4" width="10.4" height="10.4" fill="#000"/>
<rect x="1257.9" y="1724.6" width="10.4" height="10.4" fill="#000"/>
<rect x="1273.1" y="1744.9" width="10.4" height="10.4" fill="#000"/>
<rect x="1242.5" y="1749.4" width="10.4" height="10.4" fill="#000"/>
<rect x="1257.9" y="1751.6" width="10.4" height="10.4" fill="#000"/>
<rect x="1257.9" y="1767.3" width="10.4" height="10.4" fill="#000"/>
<path d="M1337.9 1600.3L1348.7 1600.3L1343.3 1610.7Z" fill="#000"/>
<path d="M1337.9 1636L1348.7 1636L1343.3 1646.4Z" fill="#000"/>
<path d="M1329.7 1747.8L1340.5 1747.8L1335.1 1758.2Z" fill="#000"/>
<path d="M1353.3 1756.9L1364.1 1756.9L1358.7 1767.3Z" fill="#000"/>
<path d="M1345.5 1761.5L1356.3 1761.5L1350.9 1771.9Z" fill="#000"/>
<path d="M1329.7 1772.6L1340.5 1772.6L1335.1 1783Z" fill="#000"/>
<path d="M1423.3 1727.9L1428.7 1738.3L1417.9 1738.3Z" fill="#000"/>
<path d="M1423.3 1750.2L1428.7 1760.6L1417.9 1760.6Z" fill="#000"/>
<path d="M1438.5 1759.4L1443.9 1769.8L1433.1 1769.8Z" fill="#000"/>
<path d="M1408.4 1769.3L1413.8 1779.7L1403 1779.7Z" fill="#000"/>
<path d="M1423.3 1771L1428.7 1781.4L1417.9 1781.4Z" fill="#000"/>
<path d="M1431 1779.7L1436.4 1790.1L1425.6 1790.1Z" fill="#000"/>
<path d="M1415.5 1790.8L1420.9 1801.2L1410.1 1801.2Z" fill="#000"/>
<line x1="1135.7" y1="1825.6" x2="1465.1" y2="1825.6" stroke="#000" stroke-width="3.8" stroke-linecap="butt"/>
<line x1="1183.1" y1="1825.6" x2="1183.1" y2="1833.6" stroke="#000" stroke-width="3.8" stroke-linecap="butt"/>
<text x="1190.1" y="1854.6" font-size="25" text-anchor="end" transform="rotate(-45 1190.1 1854.6)">Young</text>
<line x1="1262.9" y1="1825.6" x2="1262.9" y2="1833.6" stroke="#000" stroke-width="3.8" stroke-linecap="butt"/>
<text x="1272.4" y="1856.1" font-size="25" text-anchor="end" transform="rotate(-45 1272.4 1856.1)">VEH</text>
<line x1="1343.2" y1="1825.6" x2="1343.2" y2="1833.6" stroke="#000" stroke-width="3.8" stroke-linecap="butt"/>
<text x="1352.7" y="1856.1" font-size="25" text-anchor="end" transform="rotate(-45 1352.7 1856.1)">ABT</text>
<line x1="1423.6" y1="1825.6" x2="1423.6" y2="1833.6" stroke="#000" stroke-width="3.8" stroke-linecap="butt"/>
<text x="1433.1" y="1856.1" font-size="25" text-anchor="end" transform="rotate(-45 1433.1 1856.1)">PZ</text>
<line x1="1243" y1="1911.1" x2="1444.7" y2="1911.1" stroke="#000" stroke-width="4" stroke-linecap="butt"/>
<text x="1343.85" y="1943.2" font-size="24" text-anchor="middle">Aged</text>
<text x="1262.2" y="1579" font-size="24.5" font-style="italic" text-anchor="middle">a</text>
<text x="1341.7" y="1589.5" font-size="24.5" font-style="italic" text-anchor="middle">a</text>
<text x="1422.7" y="1714" font-size="24.5" font-style="italic" text-anchor="middle">a ,b</text>
<text x="1042" y="1695.6" font-size="24" text-anchor="middle" transform="rotate(-90 1042 1695.6)"><tspan font-style="italic">Cdkn2a</tspan> mRNA in kidney</text>
<text x="1069.7" y="1697.9" font-size="24" text-anchor="middle" transform="rotate(-90 1069.7 1697.9)">(Fold change)</text>
<text x="1020" y="1545" font-size="41.5" text-anchor="start" font-weight="bold">m</text>
<line x1="1632.9" y1="1565.6" x2="1632.9" y2="1826.9" stroke="#000" stroke-width="3.8" stroke-linecap="butt"/>
<line x1="1625.4" y1="1825" x2="1632.9" y2="1825" stroke="#000" stroke-width="3.8" stroke-linecap="butt"/>
<text x="1613.4" y="1833.7" font-size="23.8" text-anchor="end">0</text>
<line x1="1625.4" y1="1739.17" x2="1632.9" y2="1739.17" stroke="#000" stroke-width="3.8" stroke-linecap="butt"/>
<text x="1613.4" y="1747.87" font-size="23.8" text-anchor="end">5</text>
<line x1="1625.4" y1="1653.33" x2="1632.9" y2="1653.33" stroke="#000" stroke-width="3.8" stroke-linecap="butt"/>
<text x="1613.4" y="1662.03" font-size="23.8" text-anchor="end">10</text>
<line x1="1625.4" y1="1567.5" x2="1632.9" y2="1567.5" stroke="#000" stroke-width="3.8" stroke-linecap="butt"/>
<text x="1613.4" y="1576.2" font-size="23.8" text-anchor="end">15</text>
<rect x="1648.3" y="1808.1" width="49" height="16.9" fill="#d3d3d3" stroke="#000" stroke-width="3.8"/>
<rect x="1728.6" y="1731.4" width="49" height="93.6" fill="#d3d3d3" stroke="#000" stroke-width="3.8"/>
<rect x="1809.3" y="1714" width="49" height="111" fill="#d3d3d3" stroke="#000" stroke-width="3.8"/>
<rect x="1889.3" y="1783.6" width="49" height="41.4" fill="#d3d3d3" stroke="#000" stroke-width="3.8"/>
<line x1="1672.8" y1="1803.5" x2="1672.8" y2="1811" stroke="#000" stroke-width="3.8" stroke-linecap="butt"/>
<line x1="1659.55" y1="1803.5" x2="1686.05" y2="1803.5" stroke="#000" stroke-width="3.8" stroke-linecap="butt"/>
<line x1="1659.55" y1="1811" x2="1686.05" y2="1811" stroke="#000" stroke-width="3.8" stroke-linecap="butt"/>
<line x1="1753.1" y1="1717.8" x2="1753.1" y2="1745" stroke="#000" stroke-width="3.8" stroke-linecap="butt"/>
<line x1="1739.85" y1="1717.8" x2="1766.35" y2="1717.8" stroke="#000" stroke-width="3.8" stroke-linecap="butt"/>
<line x1="1739.85" y1="1745" x2="1766.35" y2="1745" stroke="#000" stroke-width="3.8" stroke-linecap="butt"/>
<line x1="1833.8" y1="1693.8" x2="1833.8" y2="1730.6" stroke="#000" stroke-width="3.8" stroke-linecap="butt"/>
<line x1="1820.55" y1="1693.8" x2="1847.05" y2="1693.8" stroke="#000" stroke-width="3.8" stroke-linecap="butt"/>
<line x1="1820.55" y1="1730.6" x2="1847.05" y2="1730.6" stroke="#000" stroke-width="3.8" stroke-linecap="butt"/>
<line x1="1913.8" y1="1772" x2="1913.8" y2="1790.7" stroke="#000" stroke-width="3.8" stroke-linecap="butt"/>
<line x1="1900.55" y1="1772" x2="1927.05" y2="1772" stroke="#000" stroke-width="3.8" stroke-linecap="butt"/>
<line x1="1900.55" y1="1790.7" x2="1927.05" y2="1790.7" stroke="#000" stroke-width="3.8" stroke-linecap="butt"/>
<circle cx="1665" cy="1795.5" r="5.2" fill="#000"/>
<circle cx="1680.4" cy="1799.3" r="5.2" fill="#000"/>
<circle cx="1653.9" cy="1803.5" r="5.2" fill="#000"/>
<circle cx="1692" cy="1806.5" r="5.2" fill="#000"/>
<circle cx="1663.3" cy="1811.8" r="5.2" fill="#000"/>
<circle cx="1672.8" cy="1815.9" r="5.2" fill="#000"/>
<circle cx="1682" cy="1814.2" r="5.2" fill="#000"/>
<circle cx="1672.8" cy="1806" r="5.2" fill="#000"/>
<rect x="1747.9" y="1670.7" width="10.4" height="10.4" fill="#000"/>
<rect x="1747.9" y="1696.8" width="10.4" height="10.4" fill="#000"/>
<rect x="1727.7" y="1725.1" width="10.4" height="10.4" fill="#000"/>
<rect x="1768.3" y="1731.2" width="10.4" height="10.4" fill="#000"/>
<rect x="1740.9" y="1736.7" width="10.4" height="10.4" fill="#000"/>
<rect x="1754.2" y="1738.7" width="10.4" height="10.4" fill="#000"/>
<rect x="1747.9" y="1773.1" width="10.4" height="10.4" fill="#000"/>
<path d="M1827.7 1621.9L1838.5 1621.9L1833.1 1632.3Z" fill="#000"/>
<path d="M1812.8 1707.2L1823.6 1707.2L1818.2 1717.6Z" fill="#000"/>
<path d="M1836 1702.2L1846.8 1702.2L1841.4 1712.6Z" fill="#000"/>
<path d="M1820.2 1718.8L1831 1718.8L1825.6 1729.2Z" fill="#000"/>
<path d="M1836 1730.4L1846.8 1730.4L1841.4 1740.8Z" fill="#000"/>
<path d="M1827.7 1755.2L1838.5 1755.2L1833.1 1765.6Z" fill="#000"/>
<path d="M1913.9 1746.1L1919.3 1756.5L1908.5 1756.5Z" fill="#000"/>
<path d="M1906 1759.4L1911.4 1769.8L1900.6 1769.8Z" fill="#000"/>
<path d="M1921.7 1768.5L1927.1 1778.9L1916.3 1778.9Z" fill="#000"/>
<path d="M1898.5 1791.7L1903.9 1802.1L1893.1 1802.1Z" fill="#000"/>
<path d="M1929.2 1792.5L1934.6 1802.9L1923.8 1802.9Z" fill="#000"/>
<path d="M1913.9 1804.9L1919.3 1815.3L1908.5 1815.3Z" fill="#000"/>
<line x1="1625.4" y1="1825" x2="1956" y2="1825" stroke="#000" stroke-width="3.8" stroke-linecap="butt"/>
<line x1="1672.8" y1="1825" x2="1672.8" y2="1833" stroke="#000" stroke-width="3.8" stroke-linecap="butt"/>
<text x="1679.8" y="1854" font-size="25" text-anchor="end" transform="rotate(-45 1679.8 1854)">Young</text>
<line x1="1753.1" y1="1825" x2="1753.1" y2="1833" stroke="#000" stroke-width="3.8" stroke-linecap="butt"/>
<text x="1762.6" y="1855.5" font-size="25" text-anchor="end" transform="rotate(-45 1762.6 1855.5)">VEH</text>
<line x1="1833.8" y1="1825" x2="1833.8" y2="1833" stroke="#000" stroke-width="3.8" stroke-linecap="butt"/>
<text x="1843.3" y="1855.5" font-size="25" text-anchor="end" transform="rotate(-45 1843.3 1855.5)">ABT</text>
<line x1="1913.8" y1="1825" x2="1913.8" y2="1833" stroke="#000" stroke-width="3.8" stroke-linecap="butt"/>
<text x="1923.3" y="1855.5" font-size="25" text-anchor="end" transform="rotate(-45 1923.3 1855.5)">PZ</text>
<line x1="1735.6" y1="1912.4" x2="1936.9" y2="1912.4" stroke="#000" stroke-width="4" stroke-linecap="butt"/>
<text x="1836.25" y="1945.2" font-size="24" text-anchor="middle">Aged</text>
<text x="1752.3" y="1654.4" font-size="24.5" font-style="italic" text-anchor="middle">a</text>
<text x="1832.1" y="1611.3" font-size="24.5" font-style="italic" text-anchor="middle">a</text>
<text x="1915.1" y="1734.7" font-size="24.5" font-style="italic" text-anchor="middle">a ,b ,c</text>
<text x="1534.2" y="1695.6" font-size="24" text-anchor="middle" transform="rotate(-90 1534.2 1695.6)"><tspan font-style="italic">Cdkn2a</tspan> mRNA in fat</text>
<text x="1563.1" y="1697.9" font-size="24" text-anchor="middle" transform="rotate(-90 1563.1 1697.9)">(Fold change)</text>
<text x="1514" y="1545" font-size="41.5" text-anchor="start" font-weight="bold">n</text>
</svg>
</body></html>
